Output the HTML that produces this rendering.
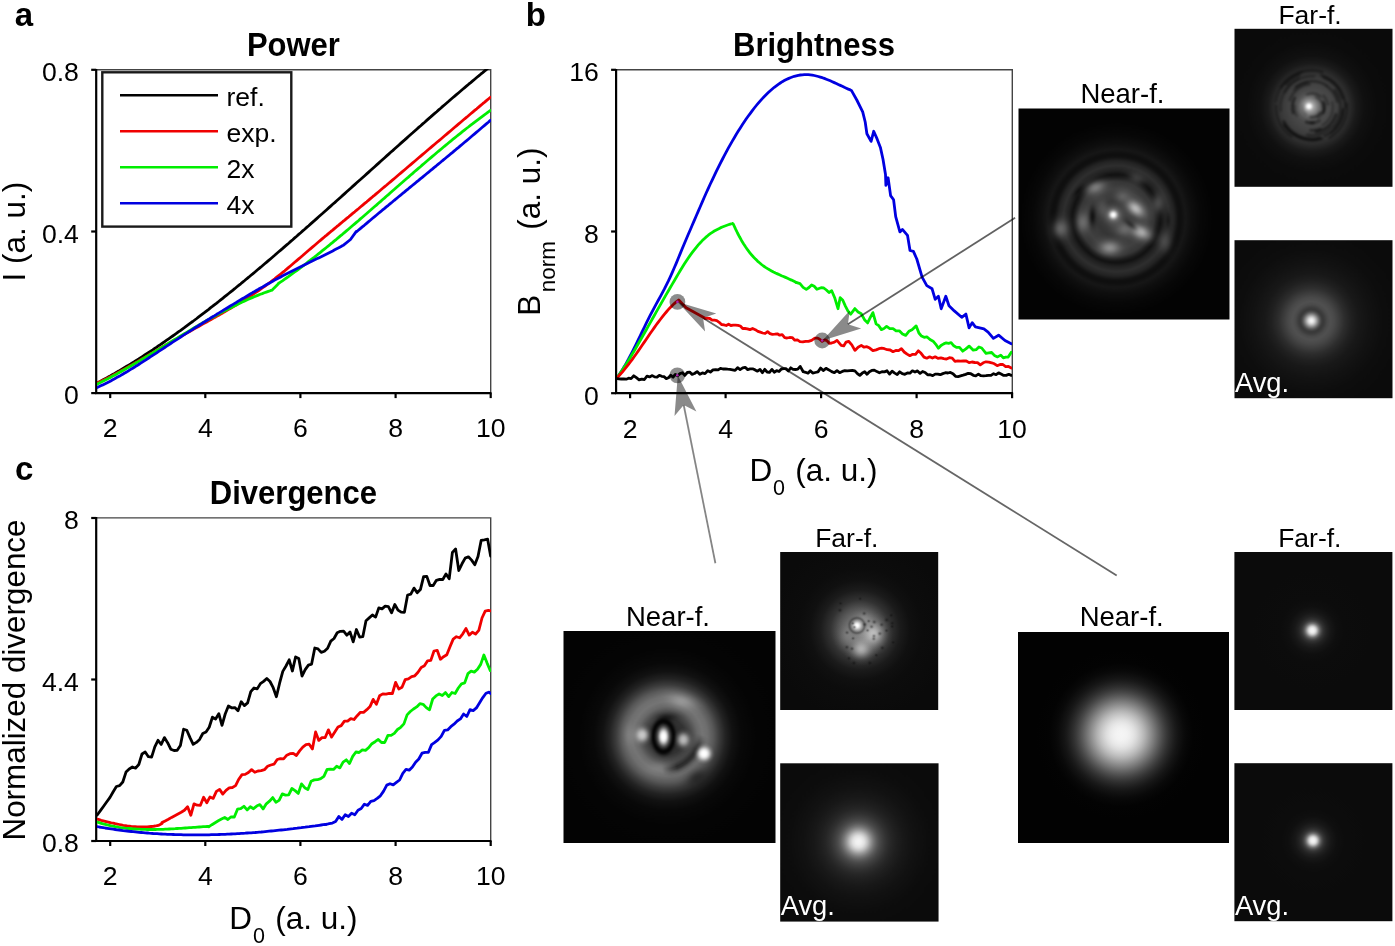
<!DOCTYPE html>
<html><head><meta charset="utf-8"><title>figure</title>
<style>html,body{margin:0;padding:0;background:#fff;}svg{display:block}svg{will-change:transform}</style></head>
<body><svg width="1395" height="946" viewBox="0 0 1395 946" font-family="'Liberation Sans', sans-serif">
<rect width="1395" height="946" fill="#fff"/>
<defs><clipPath id="clipA"><rect x="97" y="69" width="394" height="323"/></clipPath><clipPath id="clipB"><rect x="617" y="69" width="395" height="323"/></clipPath><clipPath id="clipC"><rect x="97" y="517" width="394" height="323"/></clipPath><radialGradient id="mgNBL" gradientUnits="userSpaceOnUse" cx="128" cy="132" r="30"><stop offset="0" stop-color="#fff"/><stop offset="0.5" stop-color="#fff"/><stop offset="1" stop-color="#000"/></radialGradient><mask id="maskNBL" maskUnits="userSpaceOnUse" x="0" y="0" width="212" height="212"><rect width="212" height="212" fill="url(#mgNBL)"/></mask><filter id="b1" x="-100%" y="-100%" width="300%" height="300%"><feGaussianBlur stdDeviation="1"/></filter><filter id="b1_5" x="-100%" y="-100%" width="300%" height="300%"><feGaussianBlur stdDeviation="1.5"/></filter><filter id="b2" x="-100%" y="-100%" width="300%" height="300%"><feGaussianBlur stdDeviation="2"/></filter><filter id="b2_5" x="-100%" y="-100%" width="300%" height="300%"><feGaussianBlur stdDeviation="2.5"/></filter><filter id="b3" x="-100%" y="-100%" width="300%" height="300%"><feGaussianBlur stdDeviation="3"/></filter><filter id="b3_5" x="-100%" y="-100%" width="300%" height="300%"><feGaussianBlur stdDeviation="3.5"/></filter><filter id="b4" x="-100%" y="-100%" width="300%" height="300%"><feGaussianBlur stdDeviation="4"/></filter><filter id="b5" x="-100%" y="-100%" width="300%" height="300%"><feGaussianBlur stdDeviation="5"/></filter><filter id="b6" x="-100%" y="-100%" width="300%" height="300%"><feGaussianBlur stdDeviation="6"/></filter><filter id="b7" x="-100%" y="-100%" width="300%" height="300%"><feGaussianBlur stdDeviation="7"/></filter><filter id="b8" x="-100%" y="-100%" width="300%" height="300%"><feGaussianBlur stdDeviation="8"/></filter><filter id="b10" x="-100%" y="-100%" width="300%" height="300%"><feGaussianBlur stdDeviation="10"/></filter><filter id="b12" x="-100%" y="-100%" width="300%" height="300%"><feGaussianBlur stdDeviation="12"/></filter><filter id="bf1" x="0" y="0" width="158" height="158" filterUnits="userSpaceOnUse"><feGaussianBlur stdDeviation="1.1"/></filter><radialGradient id="nbt" gradientUnits="userSpaceOnUse" cx="98.0" cy="110.0" r="125.0"><stop offset="0.0000" stop-color="rgb(74,74,74)" stop-opacity="1.000"/><stop offset="0.0640" stop-color="rgb(66,66,66)" stop-opacity="1.000"/><stop offset="0.1120" stop-color="rgb(56,56,56)" stop-opacity="1.000"/><stop offset="0.1440" stop-color="rgb(52,52,52)" stop-opacity="1.000"/><stop offset="0.1840" stop-color="rgb(58,58,58)" stop-opacity="1.000"/><stop offset="0.2400" stop-color="rgb(64,64,64)" stop-opacity="1.000"/><stop offset="0.2960" stop-color="rgb(54,54,54)" stop-opacity="1.000"/><stop offset="0.3320" stop-color="rgb(26,26,26)" stop-opacity="1.000"/><stop offset="0.3520" stop-color="rgb(17,17,17)" stop-opacity="1.000"/><stop offset="0.3840" stop-color="rgb(33,33,33)" stop-opacity="1.000"/><stop offset="0.4240" stop-color="rgb(46,46,46)" stop-opacity="1.000"/><stop offset="0.4600" stop-color="rgb(35,35,35)" stop-opacity="1.000"/><stop offset="0.4920" stop-color="rgb(17,17,17)" stop-opacity="1.000"/><stop offset="0.5120" stop-color="rgb(14,14,14)" stop-opacity="1.000"/><stop offset="0.5520" stop-color="rgb(22,22,22)" stop-opacity="1.000"/><stop offset="0.6000" stop-color="rgb(14,14,14)" stop-opacity="1.000"/><stop offset="0.6720" stop-color="rgb(7,7,7)" stop-opacity="1.000"/><stop offset="0.7680" stop-color="rgb(3,3,3)" stop-opacity="1.000"/><stop offset="0.8640" stop-color="rgb(3,3,3)" stop-opacity="1.000"/><stop offset="1.0000" stop-color="rgb(3,3,3)" stop-opacity="1.000"/></radialGradient><radialGradient id="g1"><stop offset="0.00" stop-color="rgb(190,190,190)" stop-opacity="0.950"/><stop offset="0.10" stop-color="rgb(190,190,190)" stop-opacity="0.907"/><stop offset="0.20" stop-color="rgb(190,190,190)" stop-opacity="0.790"/><stop offset="0.30" stop-color="rgb(190,190,190)" stop-opacity="0.628"/><stop offset="0.40" stop-color="rgb(190,190,190)" stop-opacity="0.455"/><stop offset="0.50" stop-color="rgb(190,190,190)" stop-opacity="0.301"/><stop offset="0.60" stop-color="rgb(190,190,190)" stop-opacity="0.181"/><stop offset="0.70" stop-color="rgb(190,190,190)" stop-opacity="0.100"/><stop offset="0.80" stop-color="rgb(190,190,190)" stop-opacity="0.050"/><stop offset="0.90" stop-color="rgb(190,190,190)" stop-opacity="0.023"/><stop offset="1.00" stop-color="rgb(190,190,190)" stop-opacity="0.000"/></radialGradient><radialGradient id="g2"><stop offset="0.00" stop-color="rgb(180,180,180)" stop-opacity="0.950"/><stop offset="0.10" stop-color="rgb(180,180,180)" stop-opacity="0.907"/><stop offset="0.20" stop-color="rgb(180,180,180)" stop-opacity="0.790"/><stop offset="0.30" stop-color="rgb(180,180,180)" stop-opacity="0.628"/><stop offset="0.40" stop-color="rgb(180,180,180)" stop-opacity="0.455"/><stop offset="0.50" stop-color="rgb(180,180,180)" stop-opacity="0.301"/><stop offset="0.60" stop-color="rgb(180,180,180)" stop-opacity="0.181"/><stop offset="0.70" stop-color="rgb(180,180,180)" stop-opacity="0.100"/><stop offset="0.80" stop-color="rgb(180,180,180)" stop-opacity="0.050"/><stop offset="0.90" stop-color="rgb(180,180,180)" stop-opacity="0.023"/><stop offset="1.00" stop-color="rgb(180,180,180)" stop-opacity="0.000"/></radialGradient><radialGradient id="g3"><stop offset="0.00" stop-color="rgb(150,150,150)" stop-opacity="0.900"/><stop offset="0.10" stop-color="rgb(150,150,150)" stop-opacity="0.860"/><stop offset="0.20" stop-color="rgb(150,150,150)" stop-opacity="0.749"/><stop offset="0.30" stop-color="rgb(150,150,150)" stop-opacity="0.595"/><stop offset="0.40" stop-color="rgb(150,150,150)" stop-opacity="0.431"/><stop offset="0.50" stop-color="rgb(150,150,150)" stop-opacity="0.285"/><stop offset="0.60" stop-color="rgb(150,150,150)" stop-opacity="0.172"/><stop offset="0.70" stop-color="rgb(150,150,150)" stop-opacity="0.094"/><stop offset="0.80" stop-color="rgb(150,150,150)" stop-opacity="0.047"/><stop offset="0.90" stop-color="rgb(150,150,150)" stop-opacity="0.022"/><stop offset="1.00" stop-color="rgb(150,150,150)" stop-opacity="0.000"/></radialGradient><radialGradient id="g4"><stop offset="0.00" stop-color="rgb(130,130,130)" stop-opacity="0.900"/><stop offset="0.10" stop-color="rgb(130,130,130)" stop-opacity="0.860"/><stop offset="0.20" stop-color="rgb(130,130,130)" stop-opacity="0.749"/><stop offset="0.30" stop-color="rgb(130,130,130)" stop-opacity="0.595"/><stop offset="0.40" stop-color="rgb(130,130,130)" stop-opacity="0.431"/><stop offset="0.50" stop-color="rgb(130,130,130)" stop-opacity="0.285"/><stop offset="0.60" stop-color="rgb(130,130,130)" stop-opacity="0.172"/><stop offset="0.70" stop-color="rgb(130,130,130)" stop-opacity="0.094"/><stop offset="0.80" stop-color="rgb(130,130,130)" stop-opacity="0.047"/><stop offset="0.90" stop-color="rgb(130,130,130)" stop-opacity="0.022"/><stop offset="1.00" stop-color="rgb(130,130,130)" stop-opacity="0.000"/></radialGradient><radialGradient id="g5"><stop offset="0.00" stop-color="rgb(115,115,115)" stop-opacity="0.850"/><stop offset="0.10" stop-color="rgb(115,115,115)" stop-opacity="0.812"/><stop offset="0.20" stop-color="rgb(115,115,115)" stop-opacity="0.707"/><stop offset="0.30" stop-color="rgb(115,115,115)" stop-opacity="0.562"/><stop offset="0.40" stop-color="rgb(115,115,115)" stop-opacity="0.407"/><stop offset="0.50" stop-color="rgb(115,115,115)" stop-opacity="0.269"/><stop offset="0.60" stop-color="rgb(115,115,115)" stop-opacity="0.162"/><stop offset="0.70" stop-color="rgb(115,115,115)" stop-opacity="0.089"/><stop offset="0.80" stop-color="rgb(115,115,115)" stop-opacity="0.045"/><stop offset="0.90" stop-color="rgb(115,115,115)" stop-opacity="0.020"/><stop offset="1.00" stop-color="rgb(115,115,115)" stop-opacity="0.000"/></radialGradient><radialGradient id="g6"><stop offset="0.00" stop-color="rgb(115,115,115)" stop-opacity="0.800"/><stop offset="0.10" stop-color="rgb(115,115,115)" stop-opacity="0.764"/><stop offset="0.20" stop-color="rgb(115,115,115)" stop-opacity="0.666"/><stop offset="0.30" stop-color="rgb(115,115,115)" stop-opacity="0.529"/><stop offset="0.40" stop-color="rgb(115,115,115)" stop-opacity="0.383"/><stop offset="0.50" stop-color="rgb(115,115,115)" stop-opacity="0.253"/><stop offset="0.60" stop-color="rgb(115,115,115)" stop-opacity="0.153"/><stop offset="0.70" stop-color="rgb(115,115,115)" stop-opacity="0.084"/><stop offset="0.80" stop-color="rgb(115,115,115)" stop-opacity="0.042"/><stop offset="0.90" stop-color="rgb(115,115,115)" stop-opacity="0.019"/><stop offset="1.00" stop-color="rgb(115,115,115)" stop-opacity="0.000"/></radialGradient><radialGradient id="g7"><stop offset="0.00" stop-color="rgb(85,85,85)" stop-opacity="0.700"/><stop offset="0.10" stop-color="rgb(85,85,85)" stop-opacity="0.669"/><stop offset="0.20" stop-color="rgb(85,85,85)" stop-opacity="0.582"/><stop offset="0.30" stop-color="rgb(85,85,85)" stop-opacity="0.463"/><stop offset="0.40" stop-color="rgb(85,85,85)" stop-opacity="0.335"/><stop offset="0.50" stop-color="rgb(85,85,85)" stop-opacity="0.222"/><stop offset="0.60" stop-color="rgb(85,85,85)" stop-opacity="0.134"/><stop offset="0.70" stop-color="rgb(85,85,85)" stop-opacity="0.073"/><stop offset="0.80" stop-color="rgb(85,85,85)" stop-opacity="0.037"/><stop offset="0.90" stop-color="rgb(85,85,85)" stop-opacity="0.017"/><stop offset="1.00" stop-color="rgb(85,85,85)" stop-opacity="0.000"/></radialGradient><radialGradient id="g8"><stop offset="0.00" stop-color="rgb(95,95,95)" stop-opacity="0.700"/><stop offset="0.10" stop-color="rgb(95,95,95)" stop-opacity="0.669"/><stop offset="0.20" stop-color="rgb(95,95,95)" stop-opacity="0.582"/><stop offset="0.30" stop-color="rgb(95,95,95)" stop-opacity="0.463"/><stop offset="0.40" stop-color="rgb(95,95,95)" stop-opacity="0.335"/><stop offset="0.50" stop-color="rgb(95,95,95)" stop-opacity="0.222"/><stop offset="0.60" stop-color="rgb(95,95,95)" stop-opacity="0.134"/><stop offset="0.70" stop-color="rgb(95,95,95)" stop-opacity="0.073"/><stop offset="0.80" stop-color="rgb(95,95,95)" stop-opacity="0.037"/><stop offset="0.90" stop-color="rgb(95,95,95)" stop-opacity="0.017"/><stop offset="1.00" stop-color="rgb(95,95,95)" stop-opacity="0.000"/></radialGradient><radialGradient id="g9"><stop offset="0.00" stop-color="rgb(120,120,120)" stop-opacity="0.750"/><stop offset="0.10" stop-color="rgb(120,120,120)" stop-opacity="0.716"/><stop offset="0.20" stop-color="rgb(120,120,120)" stop-opacity="0.624"/><stop offset="0.30" stop-color="rgb(120,120,120)" stop-opacity="0.496"/><stop offset="0.40" stop-color="rgb(120,120,120)" stop-opacity="0.359"/><stop offset="0.50" stop-color="rgb(120,120,120)" stop-opacity="0.237"/><stop offset="0.60" stop-color="rgb(120,120,120)" stop-opacity="0.143"/><stop offset="0.70" stop-color="rgb(120,120,120)" stop-opacity="0.079"/><stop offset="0.80" stop-color="rgb(120,120,120)" stop-opacity="0.039"/><stop offset="0.90" stop-color="rgb(120,120,120)" stop-opacity="0.018"/><stop offset="1.00" stop-color="rgb(120,120,120)" stop-opacity="0.000"/></radialGradient><radialGradient id="g10"><stop offset="0.00" stop-color="rgb(110,110,110)" stop-opacity="0.700"/><stop offset="0.10" stop-color="rgb(110,110,110)" stop-opacity="0.669"/><stop offset="0.20" stop-color="rgb(110,110,110)" stop-opacity="0.582"/><stop offset="0.30" stop-color="rgb(110,110,110)" stop-opacity="0.463"/><stop offset="0.40" stop-color="rgb(110,110,110)" stop-opacity="0.335"/><stop offset="0.50" stop-color="rgb(110,110,110)" stop-opacity="0.222"/><stop offset="0.60" stop-color="rgb(110,110,110)" stop-opacity="0.134"/><stop offset="0.70" stop-color="rgb(110,110,110)" stop-opacity="0.073"/><stop offset="0.80" stop-color="rgb(110,110,110)" stop-opacity="0.037"/><stop offset="0.90" stop-color="rgb(110,110,110)" stop-opacity="0.017"/><stop offset="1.00" stop-color="rgb(110,110,110)" stop-opacity="0.000"/></radialGradient><radialGradient id="g11"><stop offset="0.00" stop-color="rgb(90,90,90)" stop-opacity="0.550"/><stop offset="0.10" stop-color="rgb(90,90,90)" stop-opacity="0.525"/><stop offset="0.20" stop-color="rgb(90,90,90)" stop-opacity="0.458"/><stop offset="0.30" stop-color="rgb(90,90,90)" stop-opacity="0.364"/><stop offset="0.40" stop-color="rgb(90,90,90)" stop-opacity="0.263"/><stop offset="0.50" stop-color="rgb(90,90,90)" stop-opacity="0.174"/><stop offset="0.60" stop-color="rgb(90,90,90)" stop-opacity="0.105"/><stop offset="0.70" stop-color="rgb(90,90,90)" stop-opacity="0.058"/><stop offset="0.80" stop-color="rgb(90,90,90)" stop-opacity="0.029"/><stop offset="0.90" stop-color="rgb(90,90,90)" stop-opacity="0.013"/><stop offset="1.00" stop-color="rgb(90,90,90)" stop-opacity="0.000"/></radialGradient><radialGradient id="g12"><stop offset="0.00" stop-color="rgb(100,100,100)" stop-opacity="0.600"/><stop offset="0.10" stop-color="rgb(100,100,100)" stop-opacity="0.573"/><stop offset="0.20" stop-color="rgb(100,100,100)" stop-opacity="0.499"/><stop offset="0.30" stop-color="rgb(100,100,100)" stop-opacity="0.397"/><stop offset="0.40" stop-color="rgb(100,100,100)" stop-opacity="0.287"/><stop offset="0.50" stop-color="rgb(100,100,100)" stop-opacity="0.190"/><stop offset="0.60" stop-color="rgb(100,100,100)" stop-opacity="0.115"/><stop offset="0.70" stop-color="rgb(100,100,100)" stop-opacity="0.063"/><stop offset="0.80" stop-color="rgb(100,100,100)" stop-opacity="0.032"/><stop offset="0.90" stop-color="rgb(100,100,100)" stop-opacity="0.014"/><stop offset="1.00" stop-color="rgb(100,100,100)" stop-opacity="0.000"/></radialGradient><radialGradient id="g13"><stop offset="0.00" stop-color="rgb(0,0,0)" stop-opacity="0.500"/><stop offset="0.10" stop-color="rgb(0,0,0)" stop-opacity="0.478"/><stop offset="0.20" stop-color="rgb(0,0,0)" stop-opacity="0.416"/><stop offset="0.30" stop-color="rgb(0,0,0)" stop-opacity="0.331"/><stop offset="0.40" stop-color="rgb(0,0,0)" stop-opacity="0.240"/><stop offset="0.50" stop-color="rgb(0,0,0)" stop-opacity="0.158"/><stop offset="0.60" stop-color="rgb(0,0,0)" stop-opacity="0.095"/><stop offset="0.70" stop-color="rgb(0,0,0)" stop-opacity="0.052"/><stop offset="0.80" stop-color="rgb(0,0,0)" stop-opacity="0.026"/><stop offset="0.90" stop-color="rgb(0,0,0)" stop-opacity="0.012"/><stop offset="1.00" stop-color="rgb(0,0,0)" stop-opacity="0.000"/></radialGradient><radialGradient id="g14"><stop offset="0.00" stop-color="rgb(0,0,0)" stop-opacity="0.400"/><stop offset="0.10" stop-color="rgb(0,0,0)" stop-opacity="0.382"/><stop offset="0.20" stop-color="rgb(0,0,0)" stop-opacity="0.333"/><stop offset="0.30" stop-color="rgb(0,0,0)" stop-opacity="0.264"/><stop offset="0.40" stop-color="rgb(0,0,0)" stop-opacity="0.192"/><stop offset="0.50" stop-color="rgb(0,0,0)" stop-opacity="0.127"/><stop offset="0.60" stop-color="rgb(0,0,0)" stop-opacity="0.076"/><stop offset="0.70" stop-color="rgb(0,0,0)" stop-opacity="0.042"/><stop offset="0.80" stop-color="rgb(0,0,0)" stop-opacity="0.021"/><stop offset="0.90" stop-color="rgb(0,0,0)" stop-opacity="0.010"/><stop offset="1.00" stop-color="rgb(0,0,0)" stop-opacity="0.000"/></radialGradient><radialGradient id="g15"><stop offset="0.00" stop-color="rgb(0,0,0)" stop-opacity="0.700"/><stop offset="0.10" stop-color="rgb(0,0,0)" stop-opacity="0.669"/><stop offset="0.20" stop-color="rgb(0,0,0)" stop-opacity="0.582"/><stop offset="0.30" stop-color="rgb(0,0,0)" stop-opacity="0.463"/><stop offset="0.40" stop-color="rgb(0,0,0)" stop-opacity="0.335"/><stop offset="0.50" stop-color="rgb(0,0,0)" stop-opacity="0.222"/><stop offset="0.60" stop-color="rgb(0,0,0)" stop-opacity="0.134"/><stop offset="0.70" stop-color="rgb(0,0,0)" stop-opacity="0.073"/><stop offset="0.80" stop-color="rgb(0,0,0)" stop-opacity="0.037"/><stop offset="0.90" stop-color="rgb(0,0,0)" stop-opacity="0.017"/><stop offset="1.00" stop-color="rgb(0,0,0)" stop-opacity="0.000"/></radialGradient><radialGradient id="g16"><stop offset="0.00" stop-color="rgb(0,0,0)" stop-opacity="0.450"/><stop offset="0.10" stop-color="rgb(0,0,0)" stop-opacity="0.430"/><stop offset="0.20" stop-color="rgb(0,0,0)" stop-opacity="0.374"/><stop offset="0.30" stop-color="rgb(0,0,0)" stop-opacity="0.297"/><stop offset="0.40" stop-color="rgb(0,0,0)" stop-opacity="0.216"/><stop offset="0.50" stop-color="rgb(0,0,0)" stop-opacity="0.142"/><stop offset="0.60" stop-color="rgb(0,0,0)" stop-opacity="0.086"/><stop offset="0.70" stop-color="rgb(0,0,0)" stop-opacity="0.047"/><stop offset="0.80" stop-color="rgb(0,0,0)" stop-opacity="0.024"/><stop offset="0.90" stop-color="rgb(0,0,0)" stop-opacity="0.011"/><stop offset="1.00" stop-color="rgb(0,0,0)" stop-opacity="0.000"/></radialGradient><radialGradient id="g17"><stop offset="0.00" stop-color="rgb(170,170,170)" stop-opacity="0.900"/><stop offset="0.10" stop-color="rgb(170,170,170)" stop-opacity="0.860"/><stop offset="0.20" stop-color="rgb(170,170,170)" stop-opacity="0.749"/><stop offset="0.30" stop-color="rgb(170,170,170)" stop-opacity="0.595"/><stop offset="0.40" stop-color="rgb(170,170,170)" stop-opacity="0.431"/><stop offset="0.50" stop-color="rgb(170,170,170)" stop-opacity="0.285"/><stop offset="0.60" stop-color="rgb(170,170,170)" stop-opacity="0.172"/><stop offset="0.70" stop-color="rgb(170,170,170)" stop-opacity="0.094"/><stop offset="0.80" stop-color="rgb(170,170,170)" stop-opacity="0.047"/><stop offset="0.90" stop-color="rgb(170,170,170)" stop-opacity="0.022"/><stop offset="1.00" stop-color="rgb(170,170,170)" stop-opacity="0.000"/></radialGradient><radialGradient id="g18"><stop offset="0.00" stop-color="rgb(255,255,255)" stop-opacity="1.000"/><stop offset="0.10" stop-color="rgb(255,255,255)" stop-opacity="0.982"/><stop offset="0.20" stop-color="rgb(255,255,255)" stop-opacity="0.908"/><stop offset="0.30" stop-color="rgb(255,255,255)" stop-opacity="0.774"/><stop offset="0.40" stop-color="rgb(255,255,255)" stop-opacity="0.600"/><stop offset="0.50" stop-color="rgb(255,255,255)" stop-opacity="0.418"/><stop offset="0.60" stop-color="rgb(255,255,255)" stop-opacity="0.259"/><stop offset="0.70" stop-color="rgb(255,255,255)" stop-opacity="0.142"/><stop offset="0.80" stop-color="rgb(255,255,255)" stop-opacity="0.068"/><stop offset="0.90" stop-color="rgb(255,255,255)" stop-opacity="0.028"/><stop offset="1.00" stop-color="rgb(255,255,255)" stop-opacity="0.000"/></radialGradient><radialGradient id="fbt" gradientUnits="userSpaceOnUse" cx="77.5" cy="78.5" r="80.0"><stop offset="0.0000" stop-color="rgb(120,120,120)" stop-opacity="1.000"/><stop offset="0.1000" stop-color="rgb(92,92,92)" stop-opacity="1.000"/><stop offset="0.1750" stop-color="rgb(76,76,76)" stop-opacity="1.000"/><stop offset="0.2750" stop-color="rgb(68,68,68)" stop-opacity="1.000"/><stop offset="0.3750" stop-color="rgb(58,58,58)" stop-opacity="1.000"/><stop offset="0.4625" stop-color="rgb(44,44,44)" stop-opacity="1.000"/><stop offset="0.5500" stop-color="rgb(26,26,26)" stop-opacity="1.000"/><stop offset="0.6500" stop-color="rgb(16,16,16)" stop-opacity="1.000"/><stop offset="0.8125" stop-color="rgb(11,11,11)" stop-opacity="1.000"/><stop offset="1.0000" stop-color="rgb(10,10,10)" stop-opacity="1.000"/></radialGradient><radialGradient id="g19"><stop offset="0.00" stop-color="rgb(200,200,200)" stop-opacity="0.900"/><stop offset="0.10" stop-color="rgb(200,200,200)" stop-opacity="0.860"/><stop offset="0.20" stop-color="rgb(200,200,200)" stop-opacity="0.749"/><stop offset="0.30" stop-color="rgb(200,200,200)" stop-opacity="0.595"/><stop offset="0.40" stop-color="rgb(200,200,200)" stop-opacity="0.431"/><stop offset="0.50" stop-color="rgb(200,200,200)" stop-opacity="0.285"/><stop offset="0.60" stop-color="rgb(200,200,200)" stop-opacity="0.172"/><stop offset="0.70" stop-color="rgb(200,200,200)" stop-opacity="0.094"/><stop offset="0.80" stop-color="rgb(200,200,200)" stop-opacity="0.047"/><stop offset="0.90" stop-color="rgb(200,200,200)" stop-opacity="0.022"/><stop offset="1.00" stop-color="rgb(200,200,200)" stop-opacity="0.000"/></radialGradient><radialGradient id="g20"><stop offset="0.00" stop-color="rgb(255,255,255)" stop-opacity="1.000"/><stop offset="0.10" stop-color="rgb(255,255,255)" stop-opacity="0.989"/><stop offset="0.20" stop-color="rgb(255,255,255)" stop-opacity="0.932"/><stop offset="0.30" stop-color="rgb(255,255,255)" stop-opacity="0.818"/><stop offset="0.40" stop-color="rgb(255,255,255)" stop-opacity="0.654"/><stop offset="0.50" stop-color="rgb(255,255,255)" stop-opacity="0.468"/><stop offset="0.60" stop-color="rgb(255,255,255)" stop-opacity="0.296"/><stop offset="0.70" stop-color="rgb(255,255,255)" stop-opacity="0.162"/><stop offset="0.80" stop-color="rgb(255,255,255)" stop-opacity="0.076"/><stop offset="0.90" stop-color="rgb(255,255,255)" stop-opacity="0.030"/><stop offset="1.00" stop-color="rgb(255,255,255)" stop-opacity="0.000"/></radialGradient><radialGradient id="abt" gradientUnits="userSpaceOnUse" cx="76.9" cy="80.5" r="90.0"><stop offset="0.0000" stop-color="rgb(250,250,250)" stop-opacity="1.000"/><stop offset="0.0222" stop-color="rgb(232,232,232)" stop-opacity="1.000"/><stop offset="0.0389" stop-color="rgb(205,205,205)" stop-opacity="1.000"/><stop offset="0.0556" stop-color="rgb(168,168,168)" stop-opacity="1.000"/><stop offset="0.0722" stop-color="rgb(130,130,130)" stop-opacity="1.000"/><stop offset="0.0889" stop-color="rgb(96,96,96)" stop-opacity="1.000"/><stop offset="0.1056" stop-color="rgb(70,70,70)" stop-opacity="1.000"/><stop offset="0.1244" stop-color="rgb(56,56,56)" stop-opacity="1.000"/><stop offset="0.1444" stop-color="rgb(60,60,60)" stop-opacity="1.000"/><stop offset="0.1778" stop-color="rgb(74,74,74)" stop-opacity="1.000"/><stop offset="0.2111" stop-color="rgb(80,80,80)" stop-opacity="1.000"/><stop offset="0.2556" stop-color="rgb(73,73,73)" stop-opacity="1.000"/><stop offset="0.3000" stop-color="rgb(62,62,62)" stop-opacity="1.000"/><stop offset="0.3667" stop-color="rgb(45,45,45)" stop-opacity="1.000"/><stop offset="0.4444" stop-color="rgb(32,32,32)" stop-opacity="1.000"/><stop offset="0.5222" stop-color="rgb(24,24,24)" stop-opacity="1.000"/><stop offset="0.6444" stop-color="rgb(18,18,18)" stop-opacity="1.000"/><stop offset="0.8000" stop-color="rgb(13,13,13)" stop-opacity="1.000"/><stop offset="1.0000" stop-color="rgb(11,11,11)" stop-opacity="1.000"/></radialGradient><radialGradient id="nbl" gradientUnits="userSpaceOnUse" cx="104.0" cy="105.5" r="110.0"><stop offset="0.0000" stop-color="rgb(48,48,48)" stop-opacity="1.000"/><stop offset="0.1091" stop-color="rgb(46,46,46)" stop-opacity="1.000"/><stop offset="0.1636" stop-color="rgb(50,50,50)" stop-opacity="1.000"/><stop offset="0.2182" stop-color="rgb(74,74,74)" stop-opacity="1.000"/><stop offset="0.2727" stop-color="rgb(104,104,104)" stop-opacity="1.000"/><stop offset="0.3182" stop-color="rgb(116,116,116)" stop-opacity="1.000"/><stop offset="0.3636" stop-color="rgb(110,110,110)" stop-opacity="1.000"/><stop offset="0.4182" stop-color="rgb(88,88,88)" stop-opacity="1.000"/><stop offset="0.4727" stop-color="rgb(58,58,58)" stop-opacity="1.000"/><stop offset="0.5273" stop-color="rgb(34,34,34)" stop-opacity="1.000"/><stop offset="0.5909" stop-color="rgb(17,17,17)" stop-opacity="1.000"/><stop offset="0.6727" stop-color="rgb(8,8,8)" stop-opacity="1.000"/><stop offset="0.8000" stop-color="rgb(4,4,4)" stop-opacity="1.000"/><stop offset="1.0000" stop-color="rgb(3,3,3)" stop-opacity="1.000"/></radialGradient><radialGradient id="g21"><stop offset="0.00" stop-color="rgb(175,175,175)" stop-opacity="0.600"/><stop offset="0.10" stop-color="rgb(175,175,175)" stop-opacity="0.573"/><stop offset="0.20" stop-color="rgb(175,175,175)" stop-opacity="0.499"/><stop offset="0.30" stop-color="rgb(175,175,175)" stop-opacity="0.397"/><stop offset="0.40" stop-color="rgb(175,175,175)" stop-opacity="0.287"/><stop offset="0.50" stop-color="rgb(175,175,175)" stop-opacity="0.190"/><stop offset="0.60" stop-color="rgb(175,175,175)" stop-opacity="0.115"/><stop offset="0.70" stop-color="rgb(175,175,175)" stop-opacity="0.063"/><stop offset="0.80" stop-color="rgb(175,175,175)" stop-opacity="0.032"/><stop offset="0.90" stop-color="rgb(175,175,175)" stop-opacity="0.014"/><stop offset="1.00" stop-color="rgb(175,175,175)" stop-opacity="0.000"/></radialGradient><radialGradient id="g22"><stop offset="0.00" stop-color="rgb(0,0,0)" stop-opacity="0.450"/><stop offset="0.10" stop-color="rgb(0,0,0)" stop-opacity="0.430"/><stop offset="0.20" stop-color="rgb(0,0,0)" stop-opacity="0.374"/><stop offset="0.30" stop-color="rgb(0,0,0)" stop-opacity="0.297"/><stop offset="0.40" stop-color="rgb(0,0,0)" stop-opacity="0.216"/><stop offset="0.50" stop-color="rgb(0,0,0)" stop-opacity="0.142"/><stop offset="0.60" stop-color="rgb(0,0,0)" stop-opacity="0.086"/><stop offset="0.70" stop-color="rgb(0,0,0)" stop-opacity="0.047"/><stop offset="0.80" stop-color="rgb(0,0,0)" stop-opacity="0.024"/><stop offset="0.90" stop-color="rgb(0,0,0)" stop-opacity="0.011"/><stop offset="1.00" stop-color="rgb(0,0,0)" stop-opacity="0.000"/></radialGradient><radialGradient id="g23"><stop offset="0.00" stop-color="rgb(150,150,150)" stop-opacity="0.400"/><stop offset="0.10" stop-color="rgb(150,150,150)" stop-opacity="0.382"/><stop offset="0.20" stop-color="rgb(150,150,150)" stop-opacity="0.333"/><stop offset="0.30" stop-color="rgb(150,150,150)" stop-opacity="0.264"/><stop offset="0.40" stop-color="rgb(150,150,150)" stop-opacity="0.192"/><stop offset="0.50" stop-color="rgb(150,150,150)" stop-opacity="0.127"/><stop offset="0.60" stop-color="rgb(150,150,150)" stop-opacity="0.076"/><stop offset="0.70" stop-color="rgb(150,150,150)" stop-opacity="0.042"/><stop offset="0.80" stop-color="rgb(150,150,150)" stop-opacity="0.021"/><stop offset="0.90" stop-color="rgb(150,150,150)" stop-opacity="0.010"/><stop offset="1.00" stop-color="rgb(150,150,150)" stop-opacity="0.000"/></radialGradient><radialGradient id="g24"><stop offset="0.00" stop-color="rgb(140,140,140)" stop-opacity="0.450"/><stop offset="0.10" stop-color="rgb(140,140,140)" stop-opacity="0.430"/><stop offset="0.20" stop-color="rgb(140,140,140)" stop-opacity="0.374"/><stop offset="0.30" stop-color="rgb(140,140,140)" stop-opacity="0.297"/><stop offset="0.40" stop-color="rgb(140,140,140)" stop-opacity="0.216"/><stop offset="0.50" stop-color="rgb(140,140,140)" stop-opacity="0.142"/><stop offset="0.60" stop-color="rgb(140,140,140)" stop-opacity="0.086"/><stop offset="0.70" stop-color="rgb(140,140,140)" stop-opacity="0.047"/><stop offset="0.80" stop-color="rgb(140,140,140)" stop-opacity="0.024"/><stop offset="0.90" stop-color="rgb(140,140,140)" stop-opacity="0.011"/><stop offset="1.00" stop-color="rgb(140,140,140)" stop-opacity="0.000"/></radialGradient><radialGradient id="g25"><stop offset="0.0000" stop-color="rgb(0,0,0)" stop-opacity="0.000"/><stop offset="0.0417" stop-color="rgb(0,0,0)" stop-opacity="0.000"/><stop offset="0.0833" stop-color="rgb(0,0,0)" stop-opacity="0.000"/><stop offset="0.1250" stop-color="rgb(0,0,0)" stop-opacity="0.000"/><stop offset="0.1667" stop-color="rgb(0,0,0)" stop-opacity="0.000"/><stop offset="0.2083" stop-color="rgb(0,0,0)" stop-opacity="0.000"/><stop offset="0.2500" stop-color="rgb(0,0,0)" stop-opacity="0.000"/><stop offset="0.2917" stop-color="rgb(0,0,0)" stop-opacity="0.000"/><stop offset="0.3333" stop-color="rgb(0,0,0)" stop-opacity="0.000"/><stop offset="0.3750" stop-color="rgb(0,0,0)" stop-opacity="0.000"/><stop offset="0.4167" stop-color="rgb(0,0,0)" stop-opacity="0.000"/><stop offset="0.4583" stop-color="rgb(0,0,0)" stop-opacity="0.000"/><stop offset="0.5000" stop-color="rgb(0,0,0)" stop-opacity="0.001"/><stop offset="0.5417" stop-color="rgb(0,0,0)" stop-opacity="0.006"/><stop offset="0.5833" stop-color="rgb(0,0,0)" stop-opacity="0.039"/><stop offset="0.6250" stop-color="rgb(0,0,0)" stop-opacity="0.160"/><stop offset="0.6667" stop-color="rgb(0,0,0)" stop-opacity="0.399"/><stop offset="0.7083" stop-color="rgb(0,0,0)" stop-opacity="0.603"/><stop offset="0.7500" stop-color="rgb(0,0,0)" stop-opacity="0.554"/><stop offset="0.7917" stop-color="rgb(0,0,0)" stop-opacity="0.308"/><stop offset="0.8333" stop-color="rgb(0,0,0)" stop-opacity="0.104"/><stop offset="0.8750" stop-color="rgb(0,0,0)" stop-opacity="0.021"/><stop offset="0.9167" stop-color="rgb(0,0,0)" stop-opacity="0.003"/><stop offset="0.9583" stop-color="rgb(0,0,0)" stop-opacity="0.000"/><stop offset="1.0000" stop-color="rgb(0,0,0)" stop-opacity="0.000"/></radialGradient><radialGradient id="g26"><stop offset="0.00" stop-color="rgb(20,20,20)" stop-opacity="0.550"/><stop offset="0.10" stop-color="rgb(20,20,20)" stop-opacity="0.525"/><stop offset="0.20" stop-color="rgb(20,20,20)" stop-opacity="0.458"/><stop offset="0.30" stop-color="rgb(20,20,20)" stop-opacity="0.364"/><stop offset="0.40" stop-color="rgb(20,20,20)" stop-opacity="0.263"/><stop offset="0.50" stop-color="rgb(20,20,20)" stop-opacity="0.174"/><stop offset="0.60" stop-color="rgb(20,20,20)" stop-opacity="0.105"/><stop offset="0.70" stop-color="rgb(20,20,20)" stop-opacity="0.058"/><stop offset="0.80" stop-color="rgb(20,20,20)" stop-opacity="0.029"/><stop offset="0.90" stop-color="rgb(20,20,20)" stop-opacity="0.013"/><stop offset="1.00" stop-color="rgb(20,20,20)" stop-opacity="0.000"/></radialGradient><radialGradient id="g27"><stop offset="0.0000" stop-color="rgb(0,0,0)" stop-opacity="0.000"/><stop offset="0.0417" stop-color="rgb(0,0,0)" stop-opacity="0.000"/><stop offset="0.0833" stop-color="rgb(0,0,0)" stop-opacity="0.000"/><stop offset="0.1250" stop-color="rgb(0,0,0)" stop-opacity="0.000"/><stop offset="0.1667" stop-color="rgb(0,0,0)" stop-opacity="0.000"/><stop offset="0.2083" stop-color="rgb(0,0,0)" stop-opacity="0.001"/><stop offset="0.2500" stop-color="rgb(0,0,0)" stop-opacity="0.003"/><stop offset="0.2917" stop-color="rgb(0,0,0)" stop-opacity="0.012"/><stop offset="0.3333" stop-color="rgb(0,0,0)" stop-opacity="0.042"/><stop offset="0.3750" stop-color="rgb(0,0,0)" stop-opacity="0.115"/><stop offset="0.4167" stop-color="rgb(0,0,0)" stop-opacity="0.259"/><stop offset="0.4583" stop-color="rgb(0,0,0)" stop-opacity="0.476"/><stop offset="0.5000" stop-color="rgb(0,0,0)" stop-opacity="0.715"/><stop offset="0.5417" stop-color="rgb(0,0,0)" stop-opacity="0.877"/><stop offset="0.5833" stop-color="rgb(0,0,0)" stop-opacity="0.878"/><stop offset="0.6250" stop-color="rgb(0,0,0)" stop-opacity="0.719"/><stop offset="0.6667" stop-color="rgb(0,0,0)" stop-opacity="0.481"/><stop offset="0.7083" stop-color="rgb(0,0,0)" stop-opacity="0.262"/><stop offset="0.7500" stop-color="rgb(0,0,0)" stop-opacity="0.117"/><stop offset="0.7917" stop-color="rgb(0,0,0)" stop-opacity="0.043"/><stop offset="0.8333" stop-color="rgb(0,0,0)" stop-opacity="0.013"/><stop offset="0.8750" stop-color="rgb(0,0,0)" stop-opacity="0.003"/><stop offset="0.9167" stop-color="rgb(0,0,0)" stop-opacity="0.001"/><stop offset="0.9583" stop-color="rgb(0,0,0)" stop-opacity="0.000"/><stop offset="1.0000" stop-color="rgb(0,0,0)" stop-opacity="0.000"/></radialGradient><radialGradient id="g28"><stop offset="0.00" stop-color="rgb(255,255,255)" stop-opacity="1.000"/><stop offset="0.10" stop-color="rgb(255,255,255)" stop-opacity="0.997"/><stop offset="0.20" stop-color="rgb(255,255,255)" stop-opacity="0.974"/><stop offset="0.30" stop-color="rgb(255,255,255)" stop-opacity="0.907"/><stop offset="0.40" stop-color="rgb(255,255,255)" stop-opacity="0.783"/><stop offset="0.50" stop-color="rgb(255,255,255)" stop-opacity="0.606"/><stop offset="0.60" stop-color="rgb(255,255,255)" stop-opacity="0.408"/><stop offset="0.70" stop-color="rgb(255,255,255)" stop-opacity="0.230"/><stop offset="0.80" stop-color="rgb(255,255,255)" stop-opacity="0.105"/><stop offset="0.90" stop-color="rgb(255,255,255)" stop-opacity="0.037"/><stop offset="1.00" stop-color="rgb(255,255,255)" stop-opacity="0.000"/></radialGradient><radialGradient id="g29"><stop offset="0.00" stop-color="rgb(205,205,205)" stop-opacity="0.950"/><stop offset="0.10" stop-color="rgb(205,205,205)" stop-opacity="0.939"/><stop offset="0.20" stop-color="rgb(205,205,205)" stop-opacity="0.886"/><stop offset="0.30" stop-color="rgb(205,205,205)" stop-opacity="0.777"/><stop offset="0.40" stop-color="rgb(205,205,205)" stop-opacity="0.621"/><stop offset="0.50" stop-color="rgb(205,205,205)" stop-opacity="0.445"/><stop offset="0.60" stop-color="rgb(205,205,205)" stop-opacity="0.281"/><stop offset="0.70" stop-color="rgb(205,205,205)" stop-opacity="0.154"/><stop offset="0.80" stop-color="rgb(205,205,205)" stop-opacity="0.072"/><stop offset="0.90" stop-color="rgb(205,205,205)" stop-opacity="0.029"/><stop offset="1.00" stop-color="rgb(205,205,205)" stop-opacity="0.000"/></radialGradient><radialGradient id="g30"><stop offset="0.00" stop-color="rgb(190,190,190)" stop-opacity="0.950"/><stop offset="0.10" stop-color="rgb(190,190,190)" stop-opacity="0.939"/><stop offset="0.20" stop-color="rgb(190,190,190)" stop-opacity="0.886"/><stop offset="0.30" stop-color="rgb(190,190,190)" stop-opacity="0.777"/><stop offset="0.40" stop-color="rgb(190,190,190)" stop-opacity="0.621"/><stop offset="0.50" stop-color="rgb(190,190,190)" stop-opacity="0.445"/><stop offset="0.60" stop-color="rgb(190,190,190)" stop-opacity="0.281"/><stop offset="0.70" stop-color="rgb(190,190,190)" stop-opacity="0.154"/><stop offset="0.80" stop-color="rgb(190,190,190)" stop-opacity="0.072"/><stop offset="0.90" stop-color="rgb(190,190,190)" stop-opacity="0.029"/><stop offset="1.00" stop-color="rgb(190,190,190)" stop-opacity="0.000"/></radialGradient><radialGradient id="g31"><stop offset="0.00" stop-color="rgb(255,255,255)" stop-opacity="1.000"/><stop offset="0.10" stop-color="rgb(255,255,255)" stop-opacity="0.995"/><stop offset="0.20" stop-color="rgb(255,255,255)" stop-opacity="0.964"/><stop offset="0.30" stop-color="rgb(255,255,255)" stop-opacity="0.883"/><stop offset="0.40" stop-color="rgb(255,255,255)" stop-opacity="0.745"/><stop offset="0.50" stop-color="rgb(255,255,255)" stop-opacity="0.563"/><stop offset="0.60" stop-color="rgb(255,255,255)" stop-opacity="0.370"/><stop offset="0.70" stop-color="rgb(255,255,255)" stop-opacity="0.206"/><stop offset="0.80" stop-color="rgb(255,255,255)" stop-opacity="0.095"/><stop offset="0.90" stop-color="rgb(255,255,255)" stop-opacity="0.035"/><stop offset="1.00" stop-color="rgb(255,255,255)" stop-opacity="0.000"/></radialGradient><radialGradient id="fbl" gradientUnits="userSpaceOnUse" cx="80.0" cy="78.0" r="90.0"><stop offset="0.0000" stop-color="rgb(130,130,130)" stop-opacity="1.000"/><stop offset="0.1333" stop-color="rgb(116,116,116)" stop-opacity="1.000"/><stop offset="0.2444" stop-color="rgb(82,82,82)" stop-opacity="1.000"/><stop offset="0.3333" stop-color="rgb(50,50,50)" stop-opacity="1.000"/><stop offset="0.4444" stop-color="rgb(27,27,27)" stop-opacity="1.000"/><stop offset="0.5556" stop-color="rgb(16,16,16)" stop-opacity="1.000"/><stop offset="0.6889" stop-color="rgb(12,12,12)" stop-opacity="1.000"/><stop offset="1.0000" stop-color="rgb(10,10,10)" stop-opacity="1.000"/></radialGradient><radialGradient id="g32"><stop offset="0.00" stop-color="rgb(205,205,205)" stop-opacity="0.850"/><stop offset="0.10" stop-color="rgb(205,205,205)" stop-opacity="0.812"/><stop offset="0.20" stop-color="rgb(205,205,205)" stop-opacity="0.707"/><stop offset="0.30" stop-color="rgb(205,205,205)" stop-opacity="0.562"/><stop offset="0.40" stop-color="rgb(205,205,205)" stop-opacity="0.407"/><stop offset="0.50" stop-color="rgb(205,205,205)" stop-opacity="0.269"/><stop offset="0.60" stop-color="rgb(205,205,205)" stop-opacity="0.162"/><stop offset="0.70" stop-color="rgb(205,205,205)" stop-opacity="0.089"/><stop offset="0.80" stop-color="rgb(205,205,205)" stop-opacity="0.045"/><stop offset="0.90" stop-color="rgb(205,205,205)" stop-opacity="0.020"/><stop offset="1.00" stop-color="rgb(205,205,205)" stop-opacity="0.000"/></radialGradient><radialGradient id="g33"><stop offset="0.00" stop-color="rgb(190,190,190)" stop-opacity="0.850"/><stop offset="0.10" stop-color="rgb(190,190,190)" stop-opacity="0.812"/><stop offset="0.20" stop-color="rgb(190,190,190)" stop-opacity="0.707"/><stop offset="0.30" stop-color="rgb(190,190,190)" stop-opacity="0.562"/><stop offset="0.40" stop-color="rgb(190,190,190)" stop-opacity="0.407"/><stop offset="0.50" stop-color="rgb(190,190,190)" stop-opacity="0.269"/><stop offset="0.60" stop-color="rgb(190,190,190)" stop-opacity="0.162"/><stop offset="0.70" stop-color="rgb(190,190,190)" stop-opacity="0.089"/><stop offset="0.80" stop-color="rgb(190,190,190)" stop-opacity="0.045"/><stop offset="0.90" stop-color="rgb(190,190,190)" stop-opacity="0.020"/><stop offset="1.00" stop-color="rgb(190,190,190)" stop-opacity="0.000"/></radialGradient><radialGradient id="g34"><stop offset="0.00" stop-color="rgb(150,150,150)" stop-opacity="0.600"/><stop offset="0.10" stop-color="rgb(150,150,150)" stop-opacity="0.573"/><stop offset="0.20" stop-color="rgb(150,150,150)" stop-opacity="0.499"/><stop offset="0.30" stop-color="rgb(150,150,150)" stop-opacity="0.397"/><stop offset="0.40" stop-color="rgb(150,150,150)" stop-opacity="0.287"/><stop offset="0.50" stop-color="rgb(150,150,150)" stop-opacity="0.190"/><stop offset="0.60" stop-color="rgb(150,150,150)" stop-opacity="0.115"/><stop offset="0.70" stop-color="rgb(150,150,150)" stop-opacity="0.063"/><stop offset="0.80" stop-color="rgb(150,150,150)" stop-opacity="0.032"/><stop offset="0.90" stop-color="rgb(150,150,150)" stop-opacity="0.014"/><stop offset="1.00" stop-color="rgb(150,150,150)" stop-opacity="0.000"/></radialGradient><radialGradient id="g35"><stop offset="0.00" stop-color="rgb(140,140,140)" stop-opacity="0.500"/><stop offset="0.10" stop-color="rgb(140,140,140)" stop-opacity="0.478"/><stop offset="0.20" stop-color="rgb(140,140,140)" stop-opacity="0.416"/><stop offset="0.30" stop-color="rgb(140,140,140)" stop-opacity="0.331"/><stop offset="0.40" stop-color="rgb(140,140,140)" stop-opacity="0.240"/><stop offset="0.50" stop-color="rgb(140,140,140)" stop-opacity="0.158"/><stop offset="0.60" stop-color="rgb(140,140,140)" stop-opacity="0.095"/><stop offset="0.70" stop-color="rgb(140,140,140)" stop-opacity="0.052"/><stop offset="0.80" stop-color="rgb(140,140,140)" stop-opacity="0.026"/><stop offset="0.90" stop-color="rgb(140,140,140)" stop-opacity="0.012"/><stop offset="1.00" stop-color="rgb(140,140,140)" stop-opacity="0.000"/></radialGradient><radialGradient id="g36"><stop offset="0.0000" stop-color="rgb(0,0,0)" stop-opacity="0.000"/><stop offset="0.0417" stop-color="rgb(0,0,0)" stop-opacity="0.000"/><stop offset="0.0833" stop-color="rgb(0,0,0)" stop-opacity="0.000"/><stop offset="0.1250" stop-color="rgb(0,0,0)" stop-opacity="0.000"/><stop offset="0.1667" stop-color="rgb(0,0,0)" stop-opacity="0.000"/><stop offset="0.2083" stop-color="rgb(0,0,0)" stop-opacity="0.000"/><stop offset="0.2500" stop-color="rgb(0,0,0)" stop-opacity="0.000"/><stop offset="0.2917" stop-color="rgb(0,0,0)" stop-opacity="0.000"/><stop offset="0.3333" stop-color="rgb(0,0,0)" stop-opacity="0.001"/><stop offset="0.3750" stop-color="rgb(0,0,0)" stop-opacity="0.006"/><stop offset="0.4167" stop-color="rgb(0,0,0)" stop-opacity="0.021"/><stop offset="0.4583" stop-color="rgb(0,0,0)" stop-opacity="0.060"/><stop offset="0.5000" stop-color="rgb(0,0,0)" stop-opacity="0.129"/><stop offset="0.5417" stop-color="rgb(0,0,0)" stop-opacity="0.219"/><stop offset="0.5833" stop-color="rgb(0,0,0)" stop-opacity="0.287"/><stop offset="0.6250" stop-color="rgb(0,0,0)" stop-opacity="0.294"/><stop offset="0.6667" stop-color="rgb(0,0,0)" stop-opacity="0.233"/><stop offset="0.7083" stop-color="rgb(0,0,0)" stop-opacity="0.144"/><stop offset="0.7500" stop-color="rgb(0,0,0)" stop-opacity="0.069"/><stop offset="0.7917" stop-color="rgb(0,0,0)" stop-opacity="0.026"/><stop offset="0.8333" stop-color="rgb(0,0,0)" stop-opacity="0.008"/><stop offset="0.8750" stop-color="rgb(0,0,0)" stop-opacity="0.002"/><stop offset="0.9167" stop-color="rgb(0,0,0)" stop-opacity="0.000"/><stop offset="0.9583" stop-color="rgb(0,0,0)" stop-opacity="0.000"/><stop offset="1.0000" stop-color="rgb(0,0,0)" stop-opacity="0.000"/></radialGradient><radialGradient id="g37"><stop offset="0.00" stop-color="rgb(255,255,255)" stop-opacity="1.000"/><stop offset="0.10" stop-color="rgb(255,255,255)" stop-opacity="0.989"/><stop offset="0.20" stop-color="rgb(255,255,255)" stop-opacity="0.932"/><stop offset="0.30" stop-color="rgb(255,255,255)" stop-opacity="0.818"/><stop offset="0.40" stop-color="rgb(255,255,255)" stop-opacity="0.654"/><stop offset="0.50" stop-color="rgb(255,255,255)" stop-opacity="0.468"/><stop offset="0.60" stop-color="rgb(255,255,255)" stop-opacity="0.296"/><stop offset="0.70" stop-color="rgb(255,255,255)" stop-opacity="0.162"/><stop offset="0.80" stop-color="rgb(255,255,255)" stop-opacity="0.076"/><stop offset="0.90" stop-color="rgb(255,255,255)" stop-opacity="0.030"/><stop offset="1.00" stop-color="rgb(255,255,255)" stop-opacity="0.000"/></radialGradient><radialGradient id="g38"><stop offset="0.00" stop-color="rgb(0,0,0)" stop-opacity="0.380"/><stop offset="0.10" stop-color="rgb(0,0,0)" stop-opacity="0.363"/><stop offset="0.20" stop-color="rgb(0,0,0)" stop-opacity="0.316"/><stop offset="0.30" stop-color="rgb(0,0,0)" stop-opacity="0.251"/><stop offset="0.40" stop-color="rgb(0,0,0)" stop-opacity="0.182"/><stop offset="0.50" stop-color="rgb(0,0,0)" stop-opacity="0.120"/><stop offset="0.60" stop-color="rgb(0,0,0)" stop-opacity="0.073"/><stop offset="0.70" stop-color="rgb(0,0,0)" stop-opacity="0.040"/><stop offset="0.80" stop-color="rgb(0,0,0)" stop-opacity="0.020"/><stop offset="0.90" stop-color="rgb(0,0,0)" stop-opacity="0.009"/><stop offset="1.00" stop-color="rgb(0,0,0)" stop-opacity="0.000"/></radialGradient><radialGradient id="g39"><stop offset="0.00" stop-color="rgb(0,0,0)" stop-opacity="0.380"/><stop offset="0.10" stop-color="rgb(0,0,0)" stop-opacity="0.363"/><stop offset="0.20" stop-color="rgb(0,0,0)" stop-opacity="0.316"/><stop offset="0.30" stop-color="rgb(0,0,0)" stop-opacity="0.251"/><stop offset="0.40" stop-color="rgb(0,0,0)" stop-opacity="0.182"/><stop offset="0.50" stop-color="rgb(0,0,0)" stop-opacity="0.120"/><stop offset="0.60" stop-color="rgb(0,0,0)" stop-opacity="0.073"/><stop offset="0.70" stop-color="rgb(0,0,0)" stop-opacity="0.040"/><stop offset="0.80" stop-color="rgb(0,0,0)" stop-opacity="0.020"/><stop offset="0.90" stop-color="rgb(0,0,0)" stop-opacity="0.009"/><stop offset="1.00" stop-color="rgb(0,0,0)" stop-opacity="0.000"/></radialGradient><radialGradient id="g40"><stop offset="0.00" stop-color="rgb(0,0,0)" stop-opacity="0.380"/><stop offset="0.10" stop-color="rgb(0,0,0)" stop-opacity="0.363"/><stop offset="0.20" stop-color="rgb(0,0,0)" stop-opacity="0.316"/><stop offset="0.30" stop-color="rgb(0,0,0)" stop-opacity="0.251"/><stop offset="0.40" stop-color="rgb(0,0,0)" stop-opacity="0.182"/><stop offset="0.50" stop-color="rgb(0,0,0)" stop-opacity="0.120"/><stop offset="0.60" stop-color="rgb(0,0,0)" stop-opacity="0.073"/><stop offset="0.70" stop-color="rgb(0,0,0)" stop-opacity="0.040"/><stop offset="0.80" stop-color="rgb(0,0,0)" stop-opacity="0.020"/><stop offset="0.90" stop-color="rgb(0,0,0)" stop-opacity="0.009"/><stop offset="1.00" stop-color="rgb(0,0,0)" stop-opacity="0.000"/></radialGradient><radialGradient id="g41"><stop offset="0.00" stop-color="rgb(0,0,0)" stop-opacity="0.380"/><stop offset="0.10" stop-color="rgb(0,0,0)" stop-opacity="0.363"/><stop offset="0.20" stop-color="rgb(0,0,0)" stop-opacity="0.316"/><stop offset="0.30" stop-color="rgb(0,0,0)" stop-opacity="0.251"/><stop offset="0.40" stop-color="rgb(0,0,0)" stop-opacity="0.182"/><stop offset="0.50" stop-color="rgb(0,0,0)" stop-opacity="0.120"/><stop offset="0.60" stop-color="rgb(0,0,0)" stop-opacity="0.073"/><stop offset="0.70" stop-color="rgb(0,0,0)" stop-opacity="0.040"/><stop offset="0.80" stop-color="rgb(0,0,0)" stop-opacity="0.020"/><stop offset="0.90" stop-color="rgb(0,0,0)" stop-opacity="0.009"/><stop offset="1.00" stop-color="rgb(0,0,0)" stop-opacity="0.000"/></radialGradient><radialGradient id="g42"><stop offset="0.00" stop-color="rgb(0,0,0)" stop-opacity="0.380"/><stop offset="0.10" stop-color="rgb(0,0,0)" stop-opacity="0.363"/><stop offset="0.20" stop-color="rgb(0,0,0)" stop-opacity="0.316"/><stop offset="0.30" stop-color="rgb(0,0,0)" stop-opacity="0.251"/><stop offset="0.40" stop-color="rgb(0,0,0)" stop-opacity="0.182"/><stop offset="0.50" stop-color="rgb(0,0,0)" stop-opacity="0.120"/><stop offset="0.60" stop-color="rgb(0,0,0)" stop-opacity="0.073"/><stop offset="0.70" stop-color="rgb(0,0,0)" stop-opacity="0.040"/><stop offset="0.80" stop-color="rgb(0,0,0)" stop-opacity="0.020"/><stop offset="0.90" stop-color="rgb(0,0,0)" stop-opacity="0.009"/><stop offset="1.00" stop-color="rgb(0,0,0)" stop-opacity="0.000"/></radialGradient><radialGradient id="g43"><stop offset="0.00" stop-color="rgb(0,0,0)" stop-opacity="0.380"/><stop offset="0.10" stop-color="rgb(0,0,0)" stop-opacity="0.363"/><stop offset="0.20" stop-color="rgb(0,0,0)" stop-opacity="0.316"/><stop offset="0.30" stop-color="rgb(0,0,0)" stop-opacity="0.251"/><stop offset="0.40" stop-color="rgb(0,0,0)" stop-opacity="0.182"/><stop offset="0.50" stop-color="rgb(0,0,0)" stop-opacity="0.120"/><stop offset="0.60" stop-color="rgb(0,0,0)" stop-opacity="0.073"/><stop offset="0.70" stop-color="rgb(0,0,0)" stop-opacity="0.040"/><stop offset="0.80" stop-color="rgb(0,0,0)" stop-opacity="0.020"/><stop offset="0.90" stop-color="rgb(0,0,0)" stop-opacity="0.009"/><stop offset="1.00" stop-color="rgb(0,0,0)" stop-opacity="0.000"/></radialGradient><radialGradient id="g44"><stop offset="0.00" stop-color="rgb(0,0,0)" stop-opacity="0.380"/><stop offset="0.10" stop-color="rgb(0,0,0)" stop-opacity="0.363"/><stop offset="0.20" stop-color="rgb(0,0,0)" stop-opacity="0.316"/><stop offset="0.30" stop-color="rgb(0,0,0)" stop-opacity="0.251"/><stop offset="0.40" stop-color="rgb(0,0,0)" stop-opacity="0.182"/><stop offset="0.50" stop-color="rgb(0,0,0)" stop-opacity="0.120"/><stop offset="0.60" stop-color="rgb(0,0,0)" stop-opacity="0.073"/><stop offset="0.70" stop-color="rgb(0,0,0)" stop-opacity="0.040"/><stop offset="0.80" stop-color="rgb(0,0,0)" stop-opacity="0.020"/><stop offset="0.90" stop-color="rgb(0,0,0)" stop-opacity="0.009"/><stop offset="1.00" stop-color="rgb(0,0,0)" stop-opacity="0.000"/></radialGradient><radialGradient id="g45"><stop offset="0.00" stop-color="rgb(0,0,0)" stop-opacity="0.380"/><stop offset="0.10" stop-color="rgb(0,0,0)" stop-opacity="0.363"/><stop offset="0.20" stop-color="rgb(0,0,0)" stop-opacity="0.316"/><stop offset="0.30" stop-color="rgb(0,0,0)" stop-opacity="0.251"/><stop offset="0.40" stop-color="rgb(0,0,0)" stop-opacity="0.182"/><stop offset="0.50" stop-color="rgb(0,0,0)" stop-opacity="0.120"/><stop offset="0.60" stop-color="rgb(0,0,0)" stop-opacity="0.073"/><stop offset="0.70" stop-color="rgb(0,0,0)" stop-opacity="0.040"/><stop offset="0.80" stop-color="rgb(0,0,0)" stop-opacity="0.020"/><stop offset="0.90" stop-color="rgb(0,0,0)" stop-opacity="0.009"/><stop offset="1.00" stop-color="rgb(0,0,0)" stop-opacity="0.000"/></radialGradient><radialGradient id="g46"><stop offset="0.00" stop-color="rgb(0,0,0)" stop-opacity="0.380"/><stop offset="0.10" stop-color="rgb(0,0,0)" stop-opacity="0.363"/><stop offset="0.20" stop-color="rgb(0,0,0)" stop-opacity="0.316"/><stop offset="0.30" stop-color="rgb(0,0,0)" stop-opacity="0.251"/><stop offset="0.40" stop-color="rgb(0,0,0)" stop-opacity="0.182"/><stop offset="0.50" stop-color="rgb(0,0,0)" stop-opacity="0.120"/><stop offset="0.60" stop-color="rgb(0,0,0)" stop-opacity="0.073"/><stop offset="0.70" stop-color="rgb(0,0,0)" stop-opacity="0.040"/><stop offset="0.80" stop-color="rgb(0,0,0)" stop-opacity="0.020"/><stop offset="0.90" stop-color="rgb(0,0,0)" stop-opacity="0.009"/><stop offset="1.00" stop-color="rgb(0,0,0)" stop-opacity="0.000"/></radialGradient><radialGradient id="g47"><stop offset="0.00" stop-color="rgb(0,0,0)" stop-opacity="0.380"/><stop offset="0.10" stop-color="rgb(0,0,0)" stop-opacity="0.363"/><stop offset="0.20" stop-color="rgb(0,0,0)" stop-opacity="0.316"/><stop offset="0.30" stop-color="rgb(0,0,0)" stop-opacity="0.251"/><stop offset="0.40" stop-color="rgb(0,0,0)" stop-opacity="0.182"/><stop offset="0.50" stop-color="rgb(0,0,0)" stop-opacity="0.120"/><stop offset="0.60" stop-color="rgb(0,0,0)" stop-opacity="0.073"/><stop offset="0.70" stop-color="rgb(0,0,0)" stop-opacity="0.040"/><stop offset="0.80" stop-color="rgb(0,0,0)" stop-opacity="0.020"/><stop offset="0.90" stop-color="rgb(0,0,0)" stop-opacity="0.009"/><stop offset="1.00" stop-color="rgb(0,0,0)" stop-opacity="0.000"/></radialGradient><radialGradient id="g48"><stop offset="0.00" stop-color="rgb(0,0,0)" stop-opacity="0.380"/><stop offset="0.10" stop-color="rgb(0,0,0)" stop-opacity="0.363"/><stop offset="0.20" stop-color="rgb(0,0,0)" stop-opacity="0.316"/><stop offset="0.30" stop-color="rgb(0,0,0)" stop-opacity="0.251"/><stop offset="0.40" stop-color="rgb(0,0,0)" stop-opacity="0.182"/><stop offset="0.50" stop-color="rgb(0,0,0)" stop-opacity="0.120"/><stop offset="0.60" stop-color="rgb(0,0,0)" stop-opacity="0.073"/><stop offset="0.70" stop-color="rgb(0,0,0)" stop-opacity="0.040"/><stop offset="0.80" stop-color="rgb(0,0,0)" stop-opacity="0.020"/><stop offset="0.90" stop-color="rgb(0,0,0)" stop-opacity="0.009"/><stop offset="1.00" stop-color="rgb(0,0,0)" stop-opacity="0.000"/></radialGradient><radialGradient id="g49"><stop offset="0.00" stop-color="rgb(0,0,0)" stop-opacity="0.380"/><stop offset="0.10" stop-color="rgb(0,0,0)" stop-opacity="0.363"/><stop offset="0.20" stop-color="rgb(0,0,0)" stop-opacity="0.316"/><stop offset="0.30" stop-color="rgb(0,0,0)" stop-opacity="0.251"/><stop offset="0.40" stop-color="rgb(0,0,0)" stop-opacity="0.182"/><stop offset="0.50" stop-color="rgb(0,0,0)" stop-opacity="0.120"/><stop offset="0.60" stop-color="rgb(0,0,0)" stop-opacity="0.073"/><stop offset="0.70" stop-color="rgb(0,0,0)" stop-opacity="0.040"/><stop offset="0.80" stop-color="rgb(0,0,0)" stop-opacity="0.020"/><stop offset="0.90" stop-color="rgb(0,0,0)" stop-opacity="0.009"/><stop offset="1.00" stop-color="rgb(0,0,0)" stop-opacity="0.000"/></radialGradient><radialGradient id="g50"><stop offset="0.00" stop-color="rgb(0,0,0)" stop-opacity="0.380"/><stop offset="0.10" stop-color="rgb(0,0,0)" stop-opacity="0.363"/><stop offset="0.20" stop-color="rgb(0,0,0)" stop-opacity="0.316"/><stop offset="0.30" stop-color="rgb(0,0,0)" stop-opacity="0.251"/><stop offset="0.40" stop-color="rgb(0,0,0)" stop-opacity="0.182"/><stop offset="0.50" stop-color="rgb(0,0,0)" stop-opacity="0.120"/><stop offset="0.60" stop-color="rgb(0,0,0)" stop-opacity="0.073"/><stop offset="0.70" stop-color="rgb(0,0,0)" stop-opacity="0.040"/><stop offset="0.80" stop-color="rgb(0,0,0)" stop-opacity="0.020"/><stop offset="0.90" stop-color="rgb(0,0,0)" stop-opacity="0.009"/><stop offset="1.00" stop-color="rgb(0,0,0)" stop-opacity="0.000"/></radialGradient><radialGradient id="g51"><stop offset="0.00" stop-color="rgb(0,0,0)" stop-opacity="0.380"/><stop offset="0.10" stop-color="rgb(0,0,0)" stop-opacity="0.363"/><stop offset="0.20" stop-color="rgb(0,0,0)" stop-opacity="0.316"/><stop offset="0.30" stop-color="rgb(0,0,0)" stop-opacity="0.251"/><stop offset="0.40" stop-color="rgb(0,0,0)" stop-opacity="0.182"/><stop offset="0.50" stop-color="rgb(0,0,0)" stop-opacity="0.120"/><stop offset="0.60" stop-color="rgb(0,0,0)" stop-opacity="0.073"/><stop offset="0.70" stop-color="rgb(0,0,0)" stop-opacity="0.040"/><stop offset="0.80" stop-color="rgb(0,0,0)" stop-opacity="0.020"/><stop offset="0.90" stop-color="rgb(0,0,0)" stop-opacity="0.009"/><stop offset="1.00" stop-color="rgb(0,0,0)" stop-opacity="0.000"/></radialGradient><radialGradient id="g52"><stop offset="0.00" stop-color="rgb(0,0,0)" stop-opacity="0.380"/><stop offset="0.10" stop-color="rgb(0,0,0)" stop-opacity="0.363"/><stop offset="0.20" stop-color="rgb(0,0,0)" stop-opacity="0.316"/><stop offset="0.30" stop-color="rgb(0,0,0)" stop-opacity="0.251"/><stop offset="0.40" stop-color="rgb(0,0,0)" stop-opacity="0.182"/><stop offset="0.50" stop-color="rgb(0,0,0)" stop-opacity="0.120"/><stop offset="0.60" stop-color="rgb(0,0,0)" stop-opacity="0.073"/><stop offset="0.70" stop-color="rgb(0,0,0)" stop-opacity="0.040"/><stop offset="0.80" stop-color="rgb(0,0,0)" stop-opacity="0.020"/><stop offset="0.90" stop-color="rgb(0,0,0)" stop-opacity="0.009"/><stop offset="1.00" stop-color="rgb(0,0,0)" stop-opacity="0.000"/></radialGradient><radialGradient id="g53"><stop offset="0.00" stop-color="rgb(0,0,0)" stop-opacity="0.380"/><stop offset="0.10" stop-color="rgb(0,0,0)" stop-opacity="0.363"/><stop offset="0.20" stop-color="rgb(0,0,0)" stop-opacity="0.316"/><stop offset="0.30" stop-color="rgb(0,0,0)" stop-opacity="0.251"/><stop offset="0.40" stop-color="rgb(0,0,0)" stop-opacity="0.182"/><stop offset="0.50" stop-color="rgb(0,0,0)" stop-opacity="0.120"/><stop offset="0.60" stop-color="rgb(0,0,0)" stop-opacity="0.073"/><stop offset="0.70" stop-color="rgb(0,0,0)" stop-opacity="0.040"/><stop offset="0.80" stop-color="rgb(0,0,0)" stop-opacity="0.020"/><stop offset="0.90" stop-color="rgb(0,0,0)" stop-opacity="0.009"/><stop offset="1.00" stop-color="rgb(0,0,0)" stop-opacity="0.000"/></radialGradient><radialGradient id="g54"><stop offset="0.00" stop-color="rgb(0,0,0)" stop-opacity="0.380"/><stop offset="0.10" stop-color="rgb(0,0,0)" stop-opacity="0.363"/><stop offset="0.20" stop-color="rgb(0,0,0)" stop-opacity="0.316"/><stop offset="0.30" stop-color="rgb(0,0,0)" stop-opacity="0.251"/><stop offset="0.40" stop-color="rgb(0,0,0)" stop-opacity="0.182"/><stop offset="0.50" stop-color="rgb(0,0,0)" stop-opacity="0.120"/><stop offset="0.60" stop-color="rgb(0,0,0)" stop-opacity="0.073"/><stop offset="0.70" stop-color="rgb(0,0,0)" stop-opacity="0.040"/><stop offset="0.80" stop-color="rgb(0,0,0)" stop-opacity="0.020"/><stop offset="0.90" stop-color="rgb(0,0,0)" stop-opacity="0.009"/><stop offset="1.00" stop-color="rgb(0,0,0)" stop-opacity="0.000"/></radialGradient><radialGradient id="g55"><stop offset="0.00" stop-color="rgb(0,0,0)" stop-opacity="0.380"/><stop offset="0.10" stop-color="rgb(0,0,0)" stop-opacity="0.363"/><stop offset="0.20" stop-color="rgb(0,0,0)" stop-opacity="0.316"/><stop offset="0.30" stop-color="rgb(0,0,0)" stop-opacity="0.251"/><stop offset="0.40" stop-color="rgb(0,0,0)" stop-opacity="0.182"/><stop offset="0.50" stop-color="rgb(0,0,0)" stop-opacity="0.120"/><stop offset="0.60" stop-color="rgb(0,0,0)" stop-opacity="0.073"/><stop offset="0.70" stop-color="rgb(0,0,0)" stop-opacity="0.040"/><stop offset="0.80" stop-color="rgb(0,0,0)" stop-opacity="0.020"/><stop offset="0.90" stop-color="rgb(0,0,0)" stop-opacity="0.009"/><stop offset="1.00" stop-color="rgb(0,0,0)" stop-opacity="0.000"/></radialGradient><radialGradient id="g56"><stop offset="0.00" stop-color="rgb(0,0,0)" stop-opacity="0.380"/><stop offset="0.10" stop-color="rgb(0,0,0)" stop-opacity="0.363"/><stop offset="0.20" stop-color="rgb(0,0,0)" stop-opacity="0.316"/><stop offset="0.30" stop-color="rgb(0,0,0)" stop-opacity="0.251"/><stop offset="0.40" stop-color="rgb(0,0,0)" stop-opacity="0.182"/><stop offset="0.50" stop-color="rgb(0,0,0)" stop-opacity="0.120"/><stop offset="0.60" stop-color="rgb(0,0,0)" stop-opacity="0.073"/><stop offset="0.70" stop-color="rgb(0,0,0)" stop-opacity="0.040"/><stop offset="0.80" stop-color="rgb(0,0,0)" stop-opacity="0.020"/><stop offset="0.90" stop-color="rgb(0,0,0)" stop-opacity="0.009"/><stop offset="1.00" stop-color="rgb(0,0,0)" stop-opacity="0.000"/></radialGradient><radialGradient id="g57"><stop offset="0.00" stop-color="rgb(0,0,0)" stop-opacity="0.380"/><stop offset="0.10" stop-color="rgb(0,0,0)" stop-opacity="0.363"/><stop offset="0.20" stop-color="rgb(0,0,0)" stop-opacity="0.316"/><stop offset="0.30" stop-color="rgb(0,0,0)" stop-opacity="0.251"/><stop offset="0.40" stop-color="rgb(0,0,0)" stop-opacity="0.182"/><stop offset="0.50" stop-color="rgb(0,0,0)" stop-opacity="0.120"/><stop offset="0.60" stop-color="rgb(0,0,0)" stop-opacity="0.073"/><stop offset="0.70" stop-color="rgb(0,0,0)" stop-opacity="0.040"/><stop offset="0.80" stop-color="rgb(0,0,0)" stop-opacity="0.020"/><stop offset="0.90" stop-color="rgb(0,0,0)" stop-opacity="0.009"/><stop offset="1.00" stop-color="rgb(0,0,0)" stop-opacity="0.000"/></radialGradient><radialGradient id="g58"><stop offset="0.00" stop-color="rgb(0,0,0)" stop-opacity="0.380"/><stop offset="0.10" stop-color="rgb(0,0,0)" stop-opacity="0.363"/><stop offset="0.20" stop-color="rgb(0,0,0)" stop-opacity="0.316"/><stop offset="0.30" stop-color="rgb(0,0,0)" stop-opacity="0.251"/><stop offset="0.40" stop-color="rgb(0,0,0)" stop-opacity="0.182"/><stop offset="0.50" stop-color="rgb(0,0,0)" stop-opacity="0.120"/><stop offset="0.60" stop-color="rgb(0,0,0)" stop-opacity="0.073"/><stop offset="0.70" stop-color="rgb(0,0,0)" stop-opacity="0.040"/><stop offset="0.80" stop-color="rgb(0,0,0)" stop-opacity="0.020"/><stop offset="0.90" stop-color="rgb(0,0,0)" stop-opacity="0.009"/><stop offset="1.00" stop-color="rgb(0,0,0)" stop-opacity="0.000"/></radialGradient><radialGradient id="g59"><stop offset="0.00" stop-color="rgb(0,0,0)" stop-opacity="0.380"/><stop offset="0.10" stop-color="rgb(0,0,0)" stop-opacity="0.363"/><stop offset="0.20" stop-color="rgb(0,0,0)" stop-opacity="0.316"/><stop offset="0.30" stop-color="rgb(0,0,0)" stop-opacity="0.251"/><stop offset="0.40" stop-color="rgb(0,0,0)" stop-opacity="0.182"/><stop offset="0.50" stop-color="rgb(0,0,0)" stop-opacity="0.120"/><stop offset="0.60" stop-color="rgb(0,0,0)" stop-opacity="0.073"/><stop offset="0.70" stop-color="rgb(0,0,0)" stop-opacity="0.040"/><stop offset="0.80" stop-color="rgb(0,0,0)" stop-opacity="0.020"/><stop offset="0.90" stop-color="rgb(0,0,0)" stop-opacity="0.009"/><stop offset="1.00" stop-color="rgb(0,0,0)" stop-opacity="0.000"/></radialGradient><radialGradient id="g60"><stop offset="0.00" stop-color="rgb(0,0,0)" stop-opacity="0.380"/><stop offset="0.10" stop-color="rgb(0,0,0)" stop-opacity="0.363"/><stop offset="0.20" stop-color="rgb(0,0,0)" stop-opacity="0.316"/><stop offset="0.30" stop-color="rgb(0,0,0)" stop-opacity="0.251"/><stop offset="0.40" stop-color="rgb(0,0,0)" stop-opacity="0.182"/><stop offset="0.50" stop-color="rgb(0,0,0)" stop-opacity="0.120"/><stop offset="0.60" stop-color="rgb(0,0,0)" stop-opacity="0.073"/><stop offset="0.70" stop-color="rgb(0,0,0)" stop-opacity="0.040"/><stop offset="0.80" stop-color="rgb(0,0,0)" stop-opacity="0.020"/><stop offset="0.90" stop-color="rgb(0,0,0)" stop-opacity="0.009"/><stop offset="1.00" stop-color="rgb(0,0,0)" stop-opacity="0.000"/></radialGradient><radialGradient id="g61"><stop offset="0.00" stop-color="rgb(0,0,0)" stop-opacity="0.380"/><stop offset="0.10" stop-color="rgb(0,0,0)" stop-opacity="0.363"/><stop offset="0.20" stop-color="rgb(0,0,0)" stop-opacity="0.316"/><stop offset="0.30" stop-color="rgb(0,0,0)" stop-opacity="0.251"/><stop offset="0.40" stop-color="rgb(0,0,0)" stop-opacity="0.182"/><stop offset="0.50" stop-color="rgb(0,0,0)" stop-opacity="0.120"/><stop offset="0.60" stop-color="rgb(0,0,0)" stop-opacity="0.073"/><stop offset="0.70" stop-color="rgb(0,0,0)" stop-opacity="0.040"/><stop offset="0.80" stop-color="rgb(0,0,0)" stop-opacity="0.020"/><stop offset="0.90" stop-color="rgb(0,0,0)" stop-opacity="0.009"/><stop offset="1.00" stop-color="rgb(0,0,0)" stop-opacity="0.000"/></radialGradient><radialGradient id="g62"><stop offset="0.00" stop-color="rgb(0,0,0)" stop-opacity="0.380"/><stop offset="0.10" stop-color="rgb(0,0,0)" stop-opacity="0.363"/><stop offset="0.20" stop-color="rgb(0,0,0)" stop-opacity="0.316"/><stop offset="0.30" stop-color="rgb(0,0,0)" stop-opacity="0.251"/><stop offset="0.40" stop-color="rgb(0,0,0)" stop-opacity="0.182"/><stop offset="0.50" stop-color="rgb(0,0,0)" stop-opacity="0.120"/><stop offset="0.60" stop-color="rgb(0,0,0)" stop-opacity="0.073"/><stop offset="0.70" stop-color="rgb(0,0,0)" stop-opacity="0.040"/><stop offset="0.80" stop-color="rgb(0,0,0)" stop-opacity="0.020"/><stop offset="0.90" stop-color="rgb(0,0,0)" stop-opacity="0.009"/><stop offset="1.00" stop-color="rgb(0,0,0)" stop-opacity="0.000"/></radialGradient><radialGradient id="g63"><stop offset="0.00" stop-color="rgb(0,0,0)" stop-opacity="0.380"/><stop offset="0.10" stop-color="rgb(0,0,0)" stop-opacity="0.363"/><stop offset="0.20" stop-color="rgb(0,0,0)" stop-opacity="0.316"/><stop offset="0.30" stop-color="rgb(0,0,0)" stop-opacity="0.251"/><stop offset="0.40" stop-color="rgb(0,0,0)" stop-opacity="0.182"/><stop offset="0.50" stop-color="rgb(0,0,0)" stop-opacity="0.120"/><stop offset="0.60" stop-color="rgb(0,0,0)" stop-opacity="0.073"/><stop offset="0.70" stop-color="rgb(0,0,0)" stop-opacity="0.040"/><stop offset="0.80" stop-color="rgb(0,0,0)" stop-opacity="0.020"/><stop offset="0.90" stop-color="rgb(0,0,0)" stop-opacity="0.009"/><stop offset="1.00" stop-color="rgb(0,0,0)" stop-opacity="0.000"/></radialGradient><radialGradient id="g64"><stop offset="0.00" stop-color="rgb(0,0,0)" stop-opacity="0.380"/><stop offset="0.10" stop-color="rgb(0,0,0)" stop-opacity="0.363"/><stop offset="0.20" stop-color="rgb(0,0,0)" stop-opacity="0.316"/><stop offset="0.30" stop-color="rgb(0,0,0)" stop-opacity="0.251"/><stop offset="0.40" stop-color="rgb(0,0,0)" stop-opacity="0.182"/><stop offset="0.50" stop-color="rgb(0,0,0)" stop-opacity="0.120"/><stop offset="0.60" stop-color="rgb(0,0,0)" stop-opacity="0.073"/><stop offset="0.70" stop-color="rgb(0,0,0)" stop-opacity="0.040"/><stop offset="0.80" stop-color="rgb(0,0,0)" stop-opacity="0.020"/><stop offset="0.90" stop-color="rgb(0,0,0)" stop-opacity="0.009"/><stop offset="1.00" stop-color="rgb(0,0,0)" stop-opacity="0.000"/></radialGradient><radialGradient id="g65"><stop offset="0.00" stop-color="rgb(0,0,0)" stop-opacity="0.380"/><stop offset="0.10" stop-color="rgb(0,0,0)" stop-opacity="0.363"/><stop offset="0.20" stop-color="rgb(0,0,0)" stop-opacity="0.316"/><stop offset="0.30" stop-color="rgb(0,0,0)" stop-opacity="0.251"/><stop offset="0.40" stop-color="rgb(0,0,0)" stop-opacity="0.182"/><stop offset="0.50" stop-color="rgb(0,0,0)" stop-opacity="0.120"/><stop offset="0.60" stop-color="rgb(0,0,0)" stop-opacity="0.073"/><stop offset="0.70" stop-color="rgb(0,0,0)" stop-opacity="0.040"/><stop offset="0.80" stop-color="rgb(0,0,0)" stop-opacity="0.020"/><stop offset="0.90" stop-color="rgb(0,0,0)" stop-opacity="0.009"/><stop offset="1.00" stop-color="rgb(0,0,0)" stop-opacity="0.000"/></radialGradient><radialGradient id="g66"><stop offset="0.00" stop-color="rgb(0,0,0)" stop-opacity="0.380"/><stop offset="0.10" stop-color="rgb(0,0,0)" stop-opacity="0.363"/><stop offset="0.20" stop-color="rgb(0,0,0)" stop-opacity="0.316"/><stop offset="0.30" stop-color="rgb(0,0,0)" stop-opacity="0.251"/><stop offset="0.40" stop-color="rgb(0,0,0)" stop-opacity="0.182"/><stop offset="0.50" stop-color="rgb(0,0,0)" stop-opacity="0.120"/><stop offset="0.60" stop-color="rgb(0,0,0)" stop-opacity="0.073"/><stop offset="0.70" stop-color="rgb(0,0,0)" stop-opacity="0.040"/><stop offset="0.80" stop-color="rgb(0,0,0)" stop-opacity="0.020"/><stop offset="0.90" stop-color="rgb(0,0,0)" stop-opacity="0.009"/><stop offset="1.00" stop-color="rgb(0,0,0)" stop-opacity="0.000"/></radialGradient><radialGradient id="g67"><stop offset="0.00" stop-color="rgb(0,0,0)" stop-opacity="0.380"/><stop offset="0.10" stop-color="rgb(0,0,0)" stop-opacity="0.363"/><stop offset="0.20" stop-color="rgb(0,0,0)" stop-opacity="0.316"/><stop offset="0.30" stop-color="rgb(0,0,0)" stop-opacity="0.251"/><stop offset="0.40" stop-color="rgb(0,0,0)" stop-opacity="0.182"/><stop offset="0.50" stop-color="rgb(0,0,0)" stop-opacity="0.120"/><stop offset="0.60" stop-color="rgb(0,0,0)" stop-opacity="0.073"/><stop offset="0.70" stop-color="rgb(0,0,0)" stop-opacity="0.040"/><stop offset="0.80" stop-color="rgb(0,0,0)" stop-opacity="0.020"/><stop offset="0.90" stop-color="rgb(0,0,0)" stop-opacity="0.009"/><stop offset="1.00" stop-color="rgb(0,0,0)" stop-opacity="0.000"/></radialGradient><radialGradient id="abl" gradientUnits="userSpaceOnUse" cx="78.3" cy="78.4" r="90.0"><stop offset="0.0000" stop-color="rgb(245,245,245)" stop-opacity="1.000"/><stop offset="0.0333" stop-color="rgb(240,240,240)" stop-opacity="1.000"/><stop offset="0.0667" stop-color="rgb(224,224,224)" stop-opacity="1.000"/><stop offset="0.1000" stop-color="rgb(192,192,192)" stop-opacity="1.000"/><stop offset="0.1333" stop-color="rgb(152,152,152)" stop-opacity="1.000"/><stop offset="0.1667" stop-color="rgb(118,118,118)" stop-opacity="1.000"/><stop offset="0.2000" stop-color="rgb(92,92,92)" stop-opacity="1.000"/><stop offset="0.2333" stop-color="rgb(74,74,74)" stop-opacity="1.000"/><stop offset="0.2667" stop-color="rgb(62,62,62)" stop-opacity="1.000"/><stop offset="0.3111" stop-color="rgb(49,49,49)" stop-opacity="1.000"/><stop offset="0.3667" stop-color="rgb(38,38,38)" stop-opacity="1.000"/><stop offset="0.4222" stop-color="rgb(31,31,31)" stop-opacity="1.000"/><stop offset="0.5000" stop-color="rgb(24,24,24)" stop-opacity="1.000"/><stop offset="0.6111" stop-color="rgb(18,18,18)" stop-opacity="1.000"/><stop offset="0.7778" stop-color="rgb(13,13,13)" stop-opacity="1.000"/><stop offset="1.0000" stop-color="rgb(11,11,11)" stop-opacity="1.000"/></radialGradient><radialGradient id="nbr" gradientUnits="userSpaceOnUse" cx="103.0" cy="102.6" r="110.0"><stop offset="0.0000" stop-color="rgb(245,245,245)" stop-opacity="1.000"/><stop offset="0.0273" stop-color="rgb(244,244,244)" stop-opacity="1.000"/><stop offset="0.0545" stop-color="rgb(242,242,242)" stop-opacity="1.000"/><stop offset="0.0818" stop-color="rgb(237,237,237)" stop-opacity="1.000"/><stop offset="0.1091" stop-color="rgb(230,230,230)" stop-opacity="1.000"/><stop offset="0.1364" stop-color="rgb(220,220,220)" stop-opacity="1.000"/><stop offset="0.1636" stop-color="rgb(207,207,207)" stop-opacity="1.000"/><stop offset="0.1909" stop-color="rgb(193,193,193)" stop-opacity="1.000"/><stop offset="0.2182" stop-color="rgb(177,177,177)" stop-opacity="1.000"/><stop offset="0.2455" stop-color="rgb(159,159,159)" stop-opacity="1.000"/><stop offset="0.2727" stop-color="rgb(141,141,141)" stop-opacity="1.000"/><stop offset="0.3000" stop-color="rgb(123,123,123)" stop-opacity="1.000"/><stop offset="0.3273" stop-color="rgb(105,105,105)" stop-opacity="1.000"/><stop offset="0.3545" stop-color="rgb(88,88,88)" stop-opacity="1.000"/><stop offset="0.3818" stop-color="rgb(72,72,72)" stop-opacity="1.000"/><stop offset="0.4091" stop-color="rgb(58,58,58)" stop-opacity="1.000"/><stop offset="0.4364" stop-color="rgb(46,46,46)" stop-opacity="1.000"/><stop offset="0.4636" stop-color="rgb(36,36,36)" stop-opacity="1.000"/><stop offset="0.4909" stop-color="rgb(27,27,27)" stop-opacity="1.000"/><stop offset="0.5182" stop-color="rgb(20,20,20)" stop-opacity="1.000"/><stop offset="0.5455" stop-color="rgb(15,15,15)" stop-opacity="1.000"/><stop offset="0.5727" stop-color="rgb(10,10,10)" stop-opacity="1.000"/><stop offset="0.6000" stop-color="rgb(7,7,7)" stop-opacity="1.000"/><stop offset="0.6273" stop-color="rgb(5,5,5)" stop-opacity="1.000"/><stop offset="0.6545" stop-color="rgb(3,3,3)" stop-opacity="1.000"/><stop offset="0.7727" stop-color="rgb(2,2,2)" stop-opacity="1.000"/><stop offset="1.0000" stop-color="rgb(2,2,2)" stop-opacity="1.000"/></radialGradient><radialGradient id="fbr" gradientUnits="userSpaceOnUse" cx="77.9" cy="78.4" r="60.0"><stop offset="0.0000" stop-color="rgb(246,246,246)" stop-opacity="1.000"/><stop offset="0.0333" stop-color="rgb(240,240,240)" stop-opacity="1.000"/><stop offset="0.0617" stop-color="rgb(215,215,215)" stop-opacity="1.000"/><stop offset="0.0917" stop-color="rgb(160,160,160)" stop-opacity="1.000"/><stop offset="0.1167" stop-color="rgb(112,112,112)" stop-opacity="1.000"/><stop offset="0.1500" stop-color="rgb(72,72,72)" stop-opacity="1.000"/><stop offset="0.1833" stop-color="rgb(50,50,50)" stop-opacity="1.000"/><stop offset="0.2333" stop-color="rgb(34,34,34)" stop-opacity="1.000"/><stop offset="0.3000" stop-color="rgb(23,23,23)" stop-opacity="1.000"/><stop offset="0.4000" stop-color="rgb(15,15,15)" stop-opacity="1.000"/><stop offset="0.5333" stop-color="rgb(12,12,12)" stop-opacity="1.000"/><stop offset="1.0000" stop-color="rgb(11,11,11)" stop-opacity="1.000"/></radialGradient><radialGradient id="abr" gradientUnits="userSpaceOnUse" cx="78.6" cy="77.3" r="60.0"><stop offset="0.0000" stop-color="rgb(246,246,246)" stop-opacity="1.000"/><stop offset="0.0333" stop-color="rgb(240,240,240)" stop-opacity="1.000"/><stop offset="0.0617" stop-color="rgb(215,215,215)" stop-opacity="1.000"/><stop offset="0.0917" stop-color="rgb(160,160,160)" stop-opacity="1.000"/><stop offset="0.1167" stop-color="rgb(112,112,112)" stop-opacity="1.000"/><stop offset="0.1500" stop-color="rgb(72,72,72)" stop-opacity="1.000"/><stop offset="0.1833" stop-color="rgb(50,50,50)" stop-opacity="1.000"/><stop offset="0.2333" stop-color="rgb(34,34,34)" stop-opacity="1.000"/><stop offset="0.3000" stop-color="rgb(23,23,23)" stop-opacity="1.000"/><stop offset="0.4000" stop-color="rgb(15,15,15)" stop-opacity="1.000"/><stop offset="0.5333" stop-color="rgb(12,12,12)" stop-opacity="1.000"/><stop offset="1.0000" stop-color="rgb(11,11,11)" stop-opacity="1.000"/></radialGradient></defs>
<text x="24.0" y="26.2" font-size="33.0" text-anchor="middle" font-weight="bold" fill="#000" >a</text>
<text transform="translate(293.4 55.8) scale(1 1.060)" font-size="31.0" text-anchor="middle" font-weight="bold" fill="#000" >Power</text>
<path d="M96.2 69.8 H490.7 V393.1" fill="none" stroke="#444" stroke-width="1.4"/>
<path d="M96.2 69.0 V393.1 H491.5" fill="none" stroke="#000" stroke-width="2.2"/>
<line x1="110.2" y1="393.1" x2="110.2" y2="398.1" stroke="#000" stroke-width="2.2"/>
<text x="110.2" y="437.4" font-size="26.6" text-anchor="middle" font-weight="normal" fill="#000" >2</text>
<line x1="205.3" y1="393.1" x2="205.3" y2="398.1" stroke="#000" stroke-width="2.2"/>
<text x="205.3" y="437.4" font-size="26.6" text-anchor="middle" font-weight="normal" fill="#000" >4</text>
<line x1="300.4" y1="393.1" x2="300.4" y2="398.1" stroke="#000" stroke-width="2.2"/>
<text x="300.4" y="437.4" font-size="26.6" text-anchor="middle" font-weight="normal" fill="#000" >6</text>
<line x1="395.6" y1="393.1" x2="395.6" y2="398.1" stroke="#000" stroke-width="2.2"/>
<text x="395.6" y="437.4" font-size="26.6" text-anchor="middle" font-weight="normal" fill="#000" >8</text>
<line x1="490.7" y1="393.1" x2="490.7" y2="398.1" stroke="#000" stroke-width="2.2"/>
<text x="490.7" y="437.4" font-size="26.6" text-anchor="middle" font-weight="normal" fill="#000" >10</text>
<line x1="91.2" y1="393.1" x2="96.2" y2="393.1" stroke="#000" stroke-width="2.2"/>
<text x="78.9" y="404.4" font-size="26.6" text-anchor="end" font-weight="normal" fill="#000" >0</text>
<line x1="91.2" y1="231.5" x2="96.2" y2="231.5" stroke="#000" stroke-width="2.2"/>
<text x="78.9" y="242.8" font-size="26.6" text-anchor="end" font-weight="normal" fill="#000" >0.4</text>
<line x1="91.2" y1="69.8" x2="96.2" y2="69.8" stroke="#000" stroke-width="2.2"/>
<text x="78.9" y="81.1" font-size="26.6" text-anchor="end" font-weight="normal" fill="#000" >0.8</text>
<text transform="translate(24.6,231.7) rotate(-90)" font-size="31.5" text-anchor="middle">I (a. u.)</text>
<g clip-path="url(#clipA)">
<polyline points="96.7,383.3 98.7,382.2 100.7,381.2 102.7,380.1 104.7,379.0 106.7,377.9 108.7,376.8 110.7,375.7 112.7,374.5 114.7,373.4 116.7,372.2 118.7,371.1 120.7,369.9 122.7,368.7 124.7,367.5 126.7,366.3 128.7,365.1 130.7,363.9 132.7,362.6 134.7,361.4 136.7,360.1 138.7,358.9 140.7,357.6 142.7,356.3 144.7,355.0 146.7,353.7 148.7,352.4 150.7,351.1 152.7,349.8 154.7,348.4 156.7,347.1 158.7,345.7 160.7,344.4 162.7,343.0 164.7,341.6 166.7,340.2 168.7,338.8 170.7,337.4 172.7,336.0 174.7,334.6 176.7,333.2 178.7,331.7 180.7,330.3 182.7,328.8 184.7,327.4 186.7,325.9 188.7,324.4 190.7,322.9 192.7,321.5 194.7,320.0 196.7,318.5 198.7,316.9 200.7,315.4 202.7,313.9 204.7,312.4 206.7,310.8 208.7,309.3 210.7,307.7 212.7,306.2 214.7,304.6 216.7,303.1 218.7,301.5 220.7,299.9 222.7,298.3 224.7,296.7 226.7,295.1 228.7,293.5 230.7,291.9 232.7,290.3 234.7,288.7 236.7,287.0 238.7,285.4 240.7,283.8 242.7,282.1 244.7,280.5 246.7,278.8 248.7,277.2 250.7,275.5 252.7,273.9 254.7,272.2 256.7,270.5 258.7,268.8 260.7,267.2 262.7,265.5 264.7,263.8 266.7,262.1 268.7,260.4 270.7,258.7 272.7,257.0 274.7,255.3 276.7,253.5 278.7,251.8 280.7,250.1 282.7,248.4 284.7,246.6 286.7,244.9 288.7,243.2 290.7,241.4 292.7,239.7 294.7,237.9 296.7,236.2 298.7,234.4 300.7,232.7 302.7,230.9 304.7,229.2 306.7,227.4 308.7,225.7 310.7,223.9 312.7,222.1 314.7,220.4 316.7,218.6 318.7,216.8 320.7,215.0 322.7,213.3 324.7,211.5 326.7,209.7 328.7,207.9 330.7,206.1 332.7,204.3 334.7,202.6 336.7,200.8 338.7,199.0 340.7,197.2 342.7,195.4 344.7,193.6 346.7,191.8 348.7,190.0 350.7,188.2 352.7,186.4 354.7,184.6 356.7,182.8 358.7,181.0 360.7,179.3 362.7,177.5 364.7,175.7 366.7,173.9 368.7,172.1 370.7,170.3 372.7,168.5 374.7,166.7 376.7,164.9 378.7,163.1 380.7,161.3 382.7,159.5 384.7,157.7 386.7,155.9 388.7,154.1 390.7,152.3 392.7,150.6 394.7,148.8 396.7,147.0 398.7,145.2 400.7,143.4 402.7,141.6 404.7,139.9 406.7,138.1 408.7,136.3 410.7,134.5 412.7,132.8 414.7,131.0 416.7,129.2 418.7,127.4 420.7,125.7 422.7,123.9 424.7,122.2 426.7,120.4 428.7,118.6 430.7,116.9 432.7,115.1 434.7,113.4 436.7,111.7 438.7,109.9 440.7,108.2 442.7,106.4 444.7,104.7 446.7,103.0 448.7,101.3 450.7,99.5 452.7,97.8 454.7,96.1 456.7,94.4 458.7,92.7 460.7,91.0 462.7,89.3 464.7,87.6 466.7,85.9 468.7,84.2 470.7,82.6 472.7,80.9 474.7,79.2 476.7,77.5 478.7,75.9 480.7,74.2 482.7,72.6 484.7,70.9 486.7,69.3 488.7,67.6 490.7,66.0 492.0,64.9" fill="none" stroke="#000000" stroke-width="2.80" stroke-linejoin="round" stroke-linecap="round" />
<polyline points="96.7,383.1 98.7,382.2 100.7,381.3 102.7,380.4 104.7,379.4 106.7,378.4 108.7,377.4 110.7,376.4 112.7,375.4 114.7,374.3 116.7,373.3 118.7,372.2 120.7,371.1 122.7,370.0 124.7,368.9 126.7,367.8 128.7,366.6 130.7,365.5 132.7,364.4 134.7,363.2 136.7,362.1 138.7,360.9 140.7,359.7 142.7,358.5 144.7,357.4 146.7,356.2 148.7,355.0 150.7,353.8 152.7,352.7 154.7,351.5 156.7,350.3 158.7,349.2 160.7,348.0 162.7,346.8 164.7,345.7 166.7,344.5 168.7,343.4 170.7,342.2 172.7,341.1 174.7,339.9 176.7,338.8 178.7,337.6 180.7,336.5 182.7,335.4 184.7,334.2 186.7,333.1 188.7,332.0 190.7,330.9 192.7,329.7 194.7,328.6 196.7,327.5 198.7,326.4 200.7,325.3 202.7,324.1 204.7,323.0 206.7,321.9 208.7,320.8 210.7,319.7 212.7,318.6 214.7,317.4 216.7,316.3 218.7,315.2 220.7,314.0 222.7,312.9 224.7,311.7 226.7,310.6 228.7,309.4 230.7,308.2 232.7,307.1 234.7,305.9 236.7,304.7 238.7,303.4 240.7,302.2 242.7,301.0 244.7,299.7 246.7,298.4 248.7,297.2 250.7,295.9 252.7,294.5 254.7,293.2 256.7,291.9 258.7,290.5 260.7,289.1 262.7,287.7 264.7,286.3 266.7,284.8 268.7,283.3 270.7,281.9 272.7,280.3 274.7,278.8 276.7,277.2 278.7,275.6 280.7,274.0 282.7,272.4 284.7,270.8 286.7,269.1 288.7,267.4 290.7,265.7 292.7,264.0 294.7,262.3 296.7,260.6 298.7,258.9 300.7,257.2 302.7,255.5 304.7,253.7 306.7,252.0 308.7,250.3 310.7,248.6 312.7,246.9 314.7,245.2 316.7,243.5 318.7,241.8 320.7,240.1 322.7,238.4 324.7,236.7 326.7,235.1 328.7,233.4 330.7,231.7 332.7,230.1 334.7,228.4 336.7,226.7 338.7,225.1 340.7,223.4 342.7,221.7 344.7,220.1 346.7,218.4 348.7,216.8 350.7,215.1 352.7,213.4 354.7,211.8 356.7,210.1 358.7,208.5 360.7,206.8 362.7,205.1 364.7,203.4 366.7,201.8 368.7,200.1 370.7,198.4 372.7,196.7 374.7,195.1 376.7,193.4 378.7,191.7 380.7,190.0 382.7,188.3 384.7,186.6 386.7,185.0 388.7,183.3 390.7,181.6 392.7,179.9 394.7,178.2 396.7,176.5 398.7,174.8 400.7,173.1 402.7,171.4 404.7,169.7 406.7,168.0 408.7,166.3 410.7,164.6 412.7,162.9 414.7,161.2 416.7,159.5 418.7,157.8 420.7,156.1 422.7,154.4 424.7,152.7 426.7,151.0 428.7,149.3 430.7,147.6 432.7,145.9 434.7,144.2 436.7,142.5 438.7,140.9 440.7,139.2 442.7,137.5 444.7,135.8 446.7,134.1 448.7,132.4 450.7,130.7 452.7,129.0 454.7,127.3 456.7,125.6 458.7,123.9 460.7,122.2 462.7,120.5 464.7,118.8 466.7,117.2 468.7,115.5 470.7,113.8 472.7,112.1 474.7,110.4 476.7,108.8 478.7,107.1 480.7,105.4 482.7,103.7 484.7,102.1 486.7,100.4 488.7,98.7 490.4,97.3" fill="none" stroke="#f00000" stroke-width="2.80" stroke-linejoin="round" stroke-linecap="round" />
<polyline points="96.3,384.6 98.3,383.6 100.3,382.6 102.3,381.6 104.3,380.5 106.3,379.5 108.3,378.5 110.3,377.4 112.3,376.3 114.3,375.3 116.3,374.2 118.3,373.1 120.3,372.0 122.3,370.8 124.3,369.7 126.3,368.6 128.3,367.4 130.3,366.3 132.3,365.1 134.3,364.0 136.3,362.8 138.3,361.6 140.3,360.4 142.3,359.2 144.3,358.0 146.3,356.8 148.3,355.6 150.3,354.4 152.3,353.2 154.3,352.0 156.3,350.8 158.3,349.6 160.3,348.4 162.3,347.1 164.3,345.9 166.3,344.7 168.3,343.5 170.3,342.3 172.3,341.0 174.3,339.8 176.3,338.6 178.3,337.4 180.3,336.2 182.3,335.0 184.3,333.8 186.3,332.6 188.3,331.4 190.3,330.2 192.3,329.0 194.3,327.8 196.3,326.6 198.3,325.5 200.3,324.3 202.3,323.1 204.3,322.0 206.3,320.8 208.3,319.7 210.3,318.6 212.3,317.5 214.3,316.4 216.3,315.3 218.3,314.2 220.3,313.1 222.3,312.0 224.3,311.0 226.3,309.9 228.3,308.9 230.3,307.9 232.3,306.9 234.3,305.9 236.3,304.9 238.3,303.9 240.3,303.0 242.3,302.0 244.3,301.1 246.3,300.2 248.3,299.3 250.3,298.4 252.3,297.6 254.3,296.8 256.3,295.9 258.3,295.1 260.3,294.3 262.3,293.6 264.3,292.8 266.3,292.1 268.3,291.4 270.3,290.7 272.0,290.2 273.7,288.4 278.4,283.7 278.4,283.5 280.4,282.1 282.4,280.8 284.4,279.4 286.4,278.0 288.4,276.6 290.4,275.1 292.4,273.7 294.4,272.2 296.4,270.8 298.4,269.3 300.4,267.8 302.4,266.3 304.4,264.8 306.4,263.3 308.4,261.7 310.4,260.2 312.4,258.6 314.4,257.1 316.4,255.5 318.4,253.9 320.4,252.3 322.4,250.7 324.4,249.1 326.4,247.5 328.4,245.9 330.4,244.2 332.4,242.6 334.4,240.9 336.4,239.3 338.4,237.6 340.4,235.9 342.4,234.3 344.4,232.6 346.4,230.9 348.4,229.2 350.4,227.5 352.4,225.8 354.4,224.1 356.4,222.4 358.4,220.7 360.4,218.9 362.4,217.2 364.4,215.5 366.4,213.8 368.4,212.0 370.4,210.3 372.4,208.5 374.4,206.8 376.4,205.1 378.4,203.3 380.4,201.6 382.4,199.8 384.4,198.1 386.4,196.3 388.4,194.6 390.4,192.8 392.4,191.0 394.4,189.3 396.4,187.5 398.4,185.8 400.4,184.0 402.4,182.3 404.4,180.5 406.4,178.8 408.4,177.1 410.4,175.3 412.4,173.6 414.4,171.8 416.4,170.1 418.4,168.4 420.4,166.7 422.4,164.9 424.4,163.2 426.4,161.5 428.4,159.8 430.4,158.1 432.4,156.4 434.4,154.7 436.4,153.0 438.4,151.3 440.4,149.7 442.4,148.0 444.4,146.3 446.4,144.7 448.4,143.0 450.4,141.4 452.4,139.7 454.4,138.1 456.4,136.5 458.4,134.9 460.4,133.3 462.4,131.7 464.4,130.1 466.4,128.5 468.4,127.0 470.4,125.4 472.4,123.9 474.4,122.3 476.4,120.8 478.4,119.3 480.4,117.8 482.4,116.3 484.4,114.8 486.4,113.4 488.4,111.9 490.4,110.5" fill="none" stroke="#00ee00" stroke-width="2.80" stroke-linejoin="round" stroke-linecap="round" />
<polyline points="96.7,387.7 98.7,386.8 100.7,385.8 102.7,384.9 104.7,383.9 106.7,382.9 108.7,381.9 110.7,380.9 112.7,379.8 114.7,378.7 116.7,377.6 118.7,376.5 120.7,375.4 122.7,374.2 124.7,373.0 126.7,371.9 128.7,370.7 130.7,369.4 132.7,368.2 134.7,367.0 136.7,365.7 138.7,364.5 140.7,363.2 142.7,361.9 144.7,360.6 146.7,359.3 148.7,358.0 150.7,356.7 152.7,355.4 154.7,354.1 156.7,352.8 158.7,351.4 160.7,350.1 162.7,348.8 164.7,347.5 166.7,346.2 168.7,344.8 170.7,343.5 172.7,342.2 174.7,340.9 176.7,339.6 178.7,338.3 180.7,337.0 182.7,335.7 184.7,334.4 186.7,333.1 188.7,331.8 190.7,330.6 192.7,329.3 194.7,328.0 196.7,326.8 198.7,325.5 200.7,324.3 202.7,323.0 204.7,321.8 206.7,320.5 208.7,319.3 210.7,318.0 212.7,316.8 214.7,315.6 216.7,314.3 218.7,313.1 220.7,311.9 222.7,310.7 224.7,309.4 226.7,308.2 228.7,307.0 230.7,305.8 232.7,304.6 234.7,303.4 236.7,302.2 238.7,300.9 240.7,299.7 242.7,298.5 244.7,297.4 246.7,296.2 248.7,295.0 250.7,293.8 252.7,292.6 254.7,291.5 256.7,290.3 258.7,289.1 260.7,288.0 262.7,286.9 264.7,285.7 266.7,284.6 268.7,283.5 270.7,282.4 272.7,281.2 274.7,280.1 276.7,279.1 278.7,278.0 280.7,276.9 282.7,275.8 284.7,274.8 286.7,273.7 288.7,272.7 290.7,271.7 292.7,270.7 294.7,269.7 296.7,268.7 298.7,267.7 300.7,266.7 302.7,265.7 304.7,264.7 306.7,263.7 308.7,262.7 310.7,261.8 312.7,260.8 314.7,259.8 316.7,258.8 318.7,257.9 320.7,256.9 322.7,255.9 324.7,254.9 326.7,253.9 328.7,252.9 330.7,251.9 332.7,250.9 334.7,249.8 336.7,248.8 338.7,247.8 340.7,246.7 342.7,245.6 343.5,245.2 350.5,239.5 356.3,231.4 356.3,232.0 358.3,230.3 360.3,228.6 362.3,226.9 364.3,225.3 366.3,223.6 368.3,221.9 370.3,220.2 372.3,218.5 374.3,216.9 376.3,215.2 378.3,213.5 380.3,211.9 382.3,210.2 384.3,208.6 386.3,206.9 388.3,205.3 390.3,203.6 392.3,202.0 394.3,200.3 396.3,198.7 398.3,197.0 400.3,195.4 402.3,193.7 404.3,192.1 406.3,190.4 408.3,188.8 410.3,187.1 412.3,185.5 414.3,183.9 416.3,182.2 418.3,180.6 420.3,178.9 422.3,177.3 424.3,175.7 426.3,174.0 428.3,172.4 430.3,170.7 432.3,169.1 434.3,167.4 436.3,165.8 438.3,164.1 440.3,162.5 442.3,160.8 444.3,159.2 446.3,157.5 448.3,155.9 450.3,154.2 452.3,152.6 454.3,150.9 456.3,149.2 458.3,147.6 460.3,145.9 462.3,144.2 464.3,142.5 466.3,140.9 468.3,139.2 470.3,137.5 472.3,135.8 474.3,134.1 476.3,132.4 478.3,130.7 480.3,129.0 482.3,127.3 484.3,125.6 486.3,123.9 488.3,122.2 490.3,120.4 490.4,120.4" fill="none" stroke="#0000e0" stroke-width="2.80" stroke-linejoin="round" stroke-linecap="round" />
</g>
<rect x="102.3" y="72.3" width="189" height="154.3" fill="#fff" stroke="#1a1a1a" stroke-width="2.4"/>
<line x1="120" y1="95.3" x2="218" y2="95.3" stroke="#000000" stroke-width="2.6"/>
<text x="226.5" y="106.1" font-size="26.5" text-anchor="start" font-weight="normal" fill="#000" >ref.</text>
<line x1="120" y1="131.3" x2="218" y2="131.3" stroke="#f00000" stroke-width="2.6"/>
<text x="226.5" y="142.1" font-size="26.5" text-anchor="start" font-weight="normal" fill="#000" >exp.</text>
<line x1="120" y1="167.3" x2="218" y2="167.3" stroke="#00ee00" stroke-width="2.6"/>
<text x="226.5" y="178.1" font-size="26.5" text-anchor="start" font-weight="normal" fill="#000" >2x</text>
<line x1="120" y1="203.3" x2="218" y2="203.3" stroke="#0000e0" stroke-width="2.6"/>
<text x="226.5" y="214.1" font-size="26.5" text-anchor="start" font-weight="normal" fill="#000" >4x</text>
<text x="525.8" y="26.2" font-size="33.0" text-anchor="start" font-weight="bold" fill="#000" >b</text>
<text transform="translate(814.0 55.8) scale(1 1.060)" font-size="31.0" text-anchor="middle" font-weight="bold" fill="#000" >Brightness</text>
<path d="M616.1 69.8 H1012.3 V393.2" fill="none" stroke="#444" stroke-width="1.4"/>
<path d="M616.1 69.0 V393.2 H1013.1" fill="none" stroke="#000" stroke-width="2.2"/>
<line x1="630.1" y1="393.2" x2="630.1" y2="398.2" stroke="#000" stroke-width="2.2"/>
<text x="630.1" y="437.5" font-size="26.6" text-anchor="middle" font-weight="normal" fill="#000" >2</text>
<line x1="725.6" y1="393.2" x2="725.6" y2="398.2" stroke="#000" stroke-width="2.2"/>
<text x="725.6" y="437.5" font-size="26.6" text-anchor="middle" font-weight="normal" fill="#000" >4</text>
<line x1="821.1" y1="393.2" x2="821.1" y2="398.2" stroke="#000" stroke-width="2.2"/>
<text x="821.1" y="437.5" font-size="26.6" text-anchor="middle" font-weight="normal" fill="#000" >6</text>
<line x1="916.6" y1="393.2" x2="916.6" y2="398.2" stroke="#000" stroke-width="2.2"/>
<text x="916.6" y="437.5" font-size="26.6" text-anchor="middle" font-weight="normal" fill="#000" >8</text>
<line x1="1012.1" y1="393.2" x2="1012.1" y2="398.2" stroke="#000" stroke-width="2.2"/>
<text x="1012.1" y="437.5" font-size="26.6" text-anchor="middle" font-weight="normal" fill="#000" >10</text>
<line x1="611.1" y1="393.2" x2="616.1" y2="393.2" stroke="#000" stroke-width="2.2"/>
<text x="598.8" y="404.5" font-size="26.6" text-anchor="end" font-weight="normal" fill="#000" >0</text>
<line x1="611.1" y1="231.5" x2="616.1" y2="231.5" stroke="#000" stroke-width="2.2"/>
<text x="598.8" y="242.8" font-size="26.6" text-anchor="end" font-weight="normal" fill="#000" >8</text>
<line x1="611.1" y1="69.8" x2="616.1" y2="69.8" stroke="#000" stroke-width="2.2"/>
<text x="598.8" y="81.1" font-size="26.6" text-anchor="end" font-weight="normal" fill="#000" >16</text>
<text x="813.5" y="480.5" font-size="31.5" text-anchor="middle">D<tspan font-size="21.5" dx="0.8" dy="14.8">0</tspan><tspan dx="1.6" dy="-14.8"> (a. u.)</tspan></text>
<text transform="translate(540.2,231.7) rotate(-90)" font-size="31.5" text-anchor="middle">B<tspan font-size="22.5" dx="2.5" dy="14.3">norm</tspan><tspan dx="2.5" dy="-14.3"> (a. u.)</tspan></text>
<g clip-path="url(#clipB)">
<polyline points="616.3,378.6 618.3,376.0 620.3,373.1 622.3,369.9 624.3,366.6 626.3,363.1 628.3,359.5 630.3,355.7 632.3,351.8 634.3,347.8 636.3,343.8 638.3,339.7 640.3,335.6 642.3,331.4 644.3,327.3 646.3,323.2 648.3,319.2 650.3,315.2 652.3,311.4 654.3,307.6 656.3,303.9 658.3,300.3 660.3,296.6 662.3,292.9 664.3,289.2 666.3,285.2 668.3,281.2 670.3,276.9 672.3,272.4 674.3,267.8 676.3,263.1 678.3,258.2 680.3,253.4 682.3,248.5 684.3,243.7 686.3,239.0 688.3,234.3 690.3,229.7 692.3,225.0 694.3,220.4 696.3,215.8 698.3,211.1 700.3,206.5 702.3,201.9 704.3,197.3 706.3,192.8 708.3,188.4 710.3,184.0 712.3,179.8 714.3,175.6 716.3,171.4 718.3,167.4 720.3,163.4 722.3,159.5 724.3,155.7 726.3,151.9 728.3,148.2 730.3,144.6 732.3,141.1 734.3,137.7 736.3,134.3 738.3,131.1 740.3,127.9 742.3,124.8 744.3,121.8 746.3,118.8 748.3,116.0 750.3,113.3 752.3,110.6 754.3,108.0 756.3,105.5 758.3,103.1 760.3,100.8 762.3,98.6 764.3,96.5 766.3,94.5 768.3,92.6 770.3,90.7 772.3,89.0 774.3,87.3 776.3,85.8 778.3,84.3 780.3,83.0 782.3,81.7 784.3,80.6 786.3,79.5 788.3,78.6 790.3,77.7 792.3,77.0 794.3,76.3 796.3,75.8 798.3,75.3 800.3,75.0 802.3,74.8 804.3,74.6 806.3,74.6 808.3,74.7 810.3,74.9 812.3,75.1 814.3,75.5 816.3,76.0 818.3,76.5 820.3,77.1 822.3,77.7 824.3,78.4 826.3,79.2 828.3,80.0 830.3,80.8 832.3,81.7 834.3,82.6 836.3,83.5 838.3,84.5 840.3,85.4 842.3,86.3 844.3,87.3 846.3,88.2 848.3,89.1 850.3,89.9 851.4,90.4 856.8,100.0 862.7,111.8 865.2,122.0 866.9,133.8 871.1,141.4 873.7,131.3 877.1,138.9 880.4,147.4 883.0,159.2 885.5,174.4 885.9,185.4 888.1,177.8 890.6,195.6 893.6,199.8 895.7,216.7 899.9,231.9 902.4,229.4 907.5,235.3 910.0,250.5 913.4,251.4 916.8,259.0 922.1,277.1 926.8,285.6 932.1,288.8 935.2,299.3 938.4,296.2 941.2,308.8 945.8,296.2 949.0,305.7 954.3,310.9 961.7,317.3 965.9,314.1 969.1,327.9 972.2,322.6 975.4,326.8 983.9,328.9 988.1,332.1 993.4,338.4 998.6,335.2 1005.0,340.5 1011.3,343.7" fill="none" stroke="#0000e0" stroke-width="2.80" stroke-linejoin="round" stroke-linecap="round" />
<polyline points="796.0,282.4 800.0,283.7 803.1,287.3 806.3,289.4 809.0,287.5 811.6,284.9 814.2,286.3 816.9,289.3 821.1,287.7 823.8,288.0 826.4,290.0 829.0,292.5 831.7,290.8 834.9,298.3 838.0,308.7 840.2,297.6 842.8,300.3 845.4,306.1 848.0,311.1 850.7,314.2 854.9,308.6 858.1,312.0 861.3,313.8 864.5,319.7 867.6,322.9 870.2,317.7 872.9,312.6 876.1,323.8 878.8,325.7 881.4,329.6 884.0,328.5 886.6,326.4 889.8,328.6 893.0,328.6 896.1,330.9 899.3,330.8 902.5,334.0 905.7,335.4 908.9,331.3 912.0,329.8 916.2,325.9 918.9,333.0 921.5,336.1 924.1,337.3 926.8,336.8 930.0,339.5 933.1,341.2 935.8,344.3 938.4,348.2 941.0,345.5 943.7,343.9 946.2,342.8 948.6,343.3 951.1,342.7 953.8,345.8 956.4,347.4 959.5,347.4 962.7,351.2 965.9,348.9 969.1,346.1 973.3,350.2 976.1,349.7 978.9,347.0 981.7,348.0 986.0,353.4 988.8,352.9 991.6,352.5 994.4,355.4 997.6,356.9 1000.8,355.1 1003.3,357.9 1005.7,357.2 1008.2,357.0 1011.3,352.2" fill="none" stroke="#00ee00" stroke-width="2.80" stroke-linejoin="round" stroke-linecap="round" />
<polyline points="616.3,378.7 618.3,375.9 620.3,373.0 622.3,370.1 624.3,367.0 626.3,363.9 628.3,360.7 630.3,357.4 632.3,354.1 634.3,350.7 636.3,347.3 638.3,343.8 640.3,340.3 642.3,336.8 644.3,333.3 646.3,329.7 648.3,326.1 650.3,322.6 652.3,319.0 654.3,315.5 656.3,311.9 658.3,308.4 660.3,304.9 662.3,301.4 664.3,297.9 666.3,294.4 668.3,291.0 670.3,287.5 672.3,284.1 674.3,280.7 676.3,277.3 678.3,273.9 680.3,270.6 682.3,267.3 684.3,264.1 686.3,261.0 688.3,258.0 690.3,255.1 692.3,252.4 694.3,249.8 696.3,247.3 698.3,244.9 700.3,242.7 702.3,240.6 704.3,238.7 706.3,236.9 708.3,235.2 710.3,233.7 712.3,232.3 714.3,231.0 716.3,229.9 718.3,228.9 720.3,227.9 722.3,227.0 724.3,226.2 726.3,225.5 728.3,224.8 730.3,224.1 732.3,223.5 732.6,223.4 733.5,224.5 735.5,228.9 737.5,233.0 739.5,236.8 741.5,240.4 743.5,243.7 745.5,246.8 747.5,249.7 749.5,252.3 751.5,254.8 753.5,257.0 755.5,259.1 757.5,261.1 759.5,262.8 761.5,264.5 763.5,266.0 765.5,267.4 767.5,268.6 769.5,269.8 771.5,270.9 773.5,272.0 775.5,273.0 777.5,273.9 779.5,274.8 781.5,275.7 783.5,276.5 785.5,277.4 787.5,278.3 789.5,279.2 791.5,280.1 793.5,281.1 795.5,282.1 796.0,282.4" fill="none" stroke="#00ee00" stroke-width="2.80" stroke-linejoin="round" stroke-linecap="round" />
<polyline points="705.1,318.3 707.4,318.2 709.8,318.5 712.1,320.1 714.5,320.1 716.8,320.6 719.2,322.3 721.5,324.5 723.9,324.9 726.2,325.5 728.6,324.2 730.9,325.5 733.3,325.1 735.6,325.1 738.0,325.3 740.3,326.0 742.7,328.5 745.0,328.5 747.4,328.8 750.0,329.6 752.6,328.5 755.3,329.7 757.9,331.4 760.3,332.2 762.7,333.0 765.1,333.5 767.6,331.6 770.0,333.6 772.4,334.3 774.8,334.2 777.3,333.8 779.7,335.2 782.2,334.6 784.7,337.6 787.1,338.0 789.6,337.5 792.2,337.6 794.8,340.2 797.4,339.9 800.0,341.6 802.8,341.9 805.7,341.3 808.5,341.3 811.6,340.3 814.8,338.2 817.3,338.1 819.7,339.2 822.2,341.4 824.6,339.9 827.0,340.7 829.3,343.3 831.7,343.0 834.4,342.2 837.0,340.4 841.2,345.3 843.7,345.9 846.1,342.1 848.6,341.3 851.8,344.9 854.9,350.4 858.1,347.2 861.3,345.4 864.1,347.2 866.9,346.7 869.7,348.1 872.9,350.7 876.1,349.9 878.9,348.7 881.7,348.2 884.5,348.7 887.3,349.7 890.2,350.0 893.0,351.7 895.8,350.5 898.6,350.6 901.4,348.6 904.2,352.0 907.1,354.1 909.9,355.7 912.7,354.3 915.5,354.3 918.3,350.8 921.1,353.3 924.0,357.1 926.8,358.2 929.6,356.8 932.4,358.1 935.2,356.8 938.0,358.4 940.9,357.8 943.7,358.6 946.5,359.0 949.4,357.7 952.2,358.1 955.0,361.3 957.8,360.8 960.6,361.2 963.4,361.0 966.3,361.0 969.1,362.6 971.9,362.0 974.7,362.5 977.5,362.6 980.3,364.9 983.2,362.8 986.0,361.8 988.8,362.1 991.6,362.8 994.4,363.8 997.2,365.7 1000.1,364.5 1002.9,364.5 1005.7,366.6 1008.5,366.5 1011.3,368.0" fill="none" stroke="#f00000" stroke-width="2.80" stroke-linejoin="round" stroke-linecap="round" />
<polyline points="616.3,378.5 618.3,376.5 620.3,374.3 622.3,372.1 624.3,369.7 626.3,367.2 628.3,364.7 630.3,362.0 632.3,359.3 634.3,356.5 636.3,353.7 638.3,350.9 640.3,348.0 642.3,345.0 644.3,342.1 646.3,339.2 648.3,336.2 650.3,333.3 652.3,330.5 654.3,327.6 656.3,324.8 658.3,322.1 660.3,319.5 662.3,316.9 664.3,314.4 666.3,312.0 668.3,309.7 670.3,307.5 672.3,305.5 674.3,303.6 676.3,301.8 678.3,300.3 678.7,300.0 686.1,307.8 705.1,318.3" fill="none" stroke="#f00000" stroke-width="2.80" stroke-linejoin="round" stroke-linecap="round" />
<polyline points="616.3,378.6 618.8,378.8 621.2,379.0 623.7,378.9 626.2,379.2 628.6,378.2 631.1,378.6 633.8,375.8 636.4,377.7 639.1,379.8 641.7,379.1 644.4,379.5 647.0,376.2 649.6,376.9 652.3,375.6 654.6,376.9 657.0,377.2 659.3,375.3 661.7,376.3 664.0,376.7 666.3,378.6 668.5,377.8 670.8,375.2 673.1,377.2 675.3,374.4 677.6,375.8 680.0,373.6 682.4,372.7 684.8,375.4 687.3,372.5 689.7,372.1 692.1,374.4 694.5,373.5 697.1,371.6 699.8,374.3 702.4,372.9 705.0,373.6 707.7,370.7 710.4,372.1 713.0,369.9 715.7,369.7 718.1,369.9 720.5,368.3 722.9,369.0 725.2,368.8 727.6,369.2 730.0,369.4 732.5,369.8 735.1,370.4 737.6,367.7 740.1,369.6 742.7,367.9 745.2,367.3 747.7,369.6 750.1,368.9 752.6,368.8 755.1,369.9 757.5,371.2 760.0,369.4 762.4,372.7 764.8,369.3 767.1,372.0 769.5,372.3 771.9,369.4 774.2,372.2 776.6,370.7 779.0,371.5 781.4,369.0 783.7,368.6 786.1,368.7 788.4,371.0 790.8,367.8 793.1,369.3 795.5,369.5 797.8,369.1 800.2,366.4 803.2,371.7 805.6,372.3 808.0,373.2 810.3,370.8 812.7,373.1 815.3,372.5 818.0,371.9 820.6,368.1 823.2,370.6 826.0,368.3 828.9,369.9 831.7,371.6 834.4,372.7 837.0,370.6 839.6,372.7 842.3,371.4 844.8,370.7 847.3,370.9 849.9,370.6 852.4,370.5 854.9,370.9 857.4,373.6 859.8,375.4 862.3,373.1 864.7,371.8 867.0,374.3 869.4,371.7 871.8,370.4 874.3,370.1 876.9,371.6 879.4,372.8 882.0,371.7 884.5,371.9 887.0,370.8 889.6,374.1 892.1,371.2 894.7,373.1 897.2,374.5 899.7,371.8 902.3,373.7 904.8,374.3 907.4,372.9 909.9,373.2 912.4,370.8 915.0,372.0 917.5,370.9 920.1,373.4 922.6,371.5 925.1,372.5 927.6,374.8 930.2,374.7 932.7,375.6 935.2,374.1 937.7,374.1 940.3,374.7 942.8,373.6 945.4,372.7 947.9,373.0 950.4,372.4 953.0,373.7 955.5,376.3 958.1,376.6 960.6,375.9 963.1,375.2 965.7,374.4 968.2,373.3 970.8,373.7 973.3,375.3 975.8,375.8 978.4,374.1 980.9,375.7 983.5,375.8 986.0,375.7 988.5,375.3 991.0,375.4 993.6,373.7 996.1,374.7 998.6,372.9 1001.1,374.0 1003.7,375.4 1006.2,375.4 1008.8,374.3 1011.3,375.4" fill="none" stroke="#000000" stroke-width="2.80" stroke-linejoin="round" stroke-linecap="round" />
</g>
<circle cx="677.4" cy="301.9" r="7.9" fill="#000" fill-opacity="0.45"/>
<circle cx="677.4" cy="301.9" r="1.3" fill="#b020b0"/>
<circle cx="677.3" cy="375.3" r="7.9" fill="#000" fill-opacity="0.45"/>
<circle cx="677.3" cy="375.3" r="1.3" fill="#b020b0"/>
<circle cx="822.2" cy="340.5" r="7.9" fill="#000" fill-opacity="0.45"/>
<circle cx="822.2" cy="340.5" r="1.3" fill="#b020b0"/>
<line x1="715.4" y1="563.3" x2="683.7" y2="405.0" stroke="#000" stroke-opacity="0.48" stroke-width="1.8"/>
<path d="M677.8 375.6 L696.4 411.6 L683.7 405.0 L674.5 416.0 Z" fill="#000" fill-opacity="0.46"/>
<line x1="1116.7" y1="575.5" x2="703.1" y2="317.9" stroke="#000" stroke-opacity="0.60" stroke-width="1.8"/>
<path d="M677.6 302.0 L716.3 313.6 L703.1 317.9 L705.1 331.6 Z" fill="#000" fill-opacity="0.46"/>
<line x1="1015.1" y1="217.7" x2="847.9" y2="324.3" stroke="#000" stroke-opacity="0.62" stroke-width="1.8"/>
<path d="M822.6 340.5 L849.8 310.6 L847.9 324.3 L861.2 328.5 Z" fill="#000" fill-opacity="0.46"/>
<text x="24.2" y="479.5" font-size="33.0" text-anchor="middle" font-weight="bold" fill="#000" >c</text>
<text transform="translate(293.4 503.8) scale(1 1.060)" font-size="31.0" text-anchor="middle" font-weight="bold" fill="#000" >Divergence</text>
<path d="M96.2 517.9 H490.7 V841.0" fill="none" stroke="#444" stroke-width="1.4"/>
<path d="M96.2 517.1 V841.0 H491.5" fill="none" stroke="#000" stroke-width="2.2"/>
<line x1="110.2" y1="841.0" x2="110.2" y2="846.0" stroke="#000" stroke-width="2.2"/>
<text x="110.2" y="885.3" font-size="26.6" text-anchor="middle" font-weight="normal" fill="#000" >2</text>
<line x1="205.3" y1="841.0" x2="205.3" y2="846.0" stroke="#000" stroke-width="2.2"/>
<text x="205.3" y="885.3" font-size="26.6" text-anchor="middle" font-weight="normal" fill="#000" >4</text>
<line x1="300.4" y1="841.0" x2="300.4" y2="846.0" stroke="#000" stroke-width="2.2"/>
<text x="300.4" y="885.3" font-size="26.6" text-anchor="middle" font-weight="normal" fill="#000" >6</text>
<line x1="395.6" y1="841.0" x2="395.6" y2="846.0" stroke="#000" stroke-width="2.2"/>
<text x="395.6" y="885.3" font-size="26.6" text-anchor="middle" font-weight="normal" fill="#000" >8</text>
<line x1="490.7" y1="841.0" x2="490.7" y2="846.0" stroke="#000" stroke-width="2.2"/>
<text x="490.7" y="885.3" font-size="26.6" text-anchor="middle" font-weight="normal" fill="#000" >10</text>
<line x1="91.2" y1="841.0" x2="96.2" y2="841.0" stroke="#000" stroke-width="2.2"/>
<text x="78.9" y="852.3" font-size="26.6" text-anchor="end" font-weight="normal" fill="#000" >0.8</text>
<line x1="91.2" y1="679.5" x2="96.2" y2="679.5" stroke="#000" stroke-width="2.2"/>
<text x="78.9" y="690.8" font-size="26.6" text-anchor="end" font-weight="normal" fill="#000" >4.4</text>
<line x1="91.2" y1="518.0" x2="96.2" y2="518.0" stroke="#000" stroke-width="2.2"/>
<text x="78.9" y="529.3" font-size="26.6" text-anchor="end" font-weight="normal" fill="#000" >8</text>
<text x="293.4" y="928.5" font-size="31.5" text-anchor="middle">D<tspan font-size="21.5" dx="0.8" dy="14.8">0</tspan><tspan dx="1.6" dy="-14.8"> (a. u.)</tspan></text>
<text transform="translate(24.6,680) rotate(-90)" font-size="31.4" text-anchor="middle">Normalized divergence</text>
<g clip-path="url(#clipC)">
<polyline points="97.2,815.0 100.4,810.6 103.6,806.2 106.8,801.8 110.0,797.4 113.2,791.7 116.4,786.5 119.6,785.7 122.8,782.0 126.0,772.1 129.2,769.0 132.4,767.0 135.6,768.2 138.8,764.5 142.0,754.0 145.2,752.0 148.4,756.7 151.6,757.1 154.8,746.9 158.0,740.3 161.2,744.4 164.4,737.6 167.6,742.7 170.8,749.2 174.0,750.5 177.2,750.3 180.4,745.4 183.6,729.2 186.8,730.3 190.0,737.6 193.2,744.3 196.4,742.4 199.6,739.4 202.8,733.5 206.0,732.0 209.2,727.2 212.4,717.2 215.6,719.0 218.8,713.7 222.0,725.4 225.2,714.0 228.4,706.0 231.6,707.8 234.8,707.6 238.0,710.8 241.2,701.7 244.4,705.6 247.6,702.9 250.8,691.7 254.0,688.0 257.2,688.9 260.4,683.6 263.6,681.4 266.8,678.5 270.0,681.5 273.2,687.7 276.4,696.7 279.6,683.2 282.8,671.4 286.0,666.0 289.2,659.8 292.4,671.0 295.6,656.9 298.8,658.5 302.0,676.0 305.2,669.6 308.4,665.1 311.6,664.1 314.8,648.0 318.0,648.9 321.2,652.4 324.4,651.3 327.6,648.3 330.8,641.1 334.0,638.5 337.2,632.8 340.4,631.3 343.6,631.2 346.8,635.2 350.0,631.9 353.2,641.8 356.4,629.5 359.6,637.0 362.8,636.7 366.0,620.7 369.2,617.9 372.4,615.0 375.6,617.1 378.8,607.9 382.0,608.9 385.2,606.1 388.4,606.6 391.6,612.8 394.8,604.5 398.0,610.1 401.2,612.2 404.4,612.3 407.6,595.0 410.8,594.2 414.0,588.1 417.2,592.8 420.4,589.6 423.6,576.7 426.8,576.4 430.0,585.5 433.2,585.5 436.4,580.3 439.6,579.4 442.8,579.5 446.0,573.9 449.2,578.8 452.4,552.4 455.6,549.0 458.8,570.5 462.0,563.8 465.2,558.1 468.4,556.8 471.6,560.1 474.8,564.8 478.0,556.5 481.2,540.3 484.4,539.8 487.6,539.1 490.6,556.1" fill="none" stroke="#000000" stroke-width="2.80" stroke-linejoin="round" stroke-linecap="round" />
<polyline points="97.2,819.2 99.2,819.7 101.2,820.3 103.2,820.8 105.2,821.3 107.2,821.8 109.2,822.3 111.2,822.8 113.2,823.2 115.2,823.7 117.2,824.1 119.2,824.5 121.2,824.9 123.2,825.3 125.2,825.6 127.2,825.9 129.2,826.1 131.2,826.4 133.2,826.6 135.2,826.7 137.2,826.9 139.2,827.0 141.2,827.0 143.2,827.0 145.2,826.9 147.2,826.9 149.2,826.7 151.2,826.5 153.2,826.3 155.2,826.0 157.2,825.6 158.3,825.4 162.0,823.5" fill="none" stroke="#f00000" stroke-width="2.80" stroke-linejoin="round" stroke-linecap="round" />
<polyline points="162.0,822.6 165.2,820.9 168.4,819.2 171.6,817.4 174.8,815.7 178.0,814.0 181.2,812.3 184.4,810.3 187.6,806.7 190.8,815.3 194.0,803.9 197.2,805.2 200.4,805.3 203.6,797.2 206.8,802.7 210.0,796.9 213.2,798.4 216.4,791.4 219.6,789.4 222.8,794.1 226.0,790.4 229.2,787.8 232.4,787.5 235.6,785.6 238.8,779.2 242.0,774.6 245.2,774.4 248.4,772.5 251.6,769.6 254.8,772.3 258.0,771.0 261.2,770.7 264.4,769.7 267.6,766.3 270.8,765.0 274.0,764.2 277.2,759.5 280.4,758.6 283.6,758.9 286.8,755.2 290.0,753.7 293.2,753.3 296.4,755.5 299.6,750.9 302.8,747.2 306.0,744.7 309.2,744.2 312.4,748.9 315.6,732.0 318.8,740.4 322.0,737.6 325.2,737.5 328.4,729.9 331.6,737.1 334.8,732.0 338.0,727.0 341.2,725.6 344.4,721.1 347.6,721.2 350.8,718.6 354.0,719.5 357.2,715.7 360.4,712.3 363.6,712.3 366.8,709.7 370.0,706.6 373.2,699.4 376.4,704.3 379.6,695.8 382.8,693.9 386.0,694.1 389.2,693.4 392.4,693.5 395.6,682.4 398.8,689.0 402.0,687.3 405.2,679.6 408.4,678.8 411.6,676.6 414.8,675.8 418.0,672.3 421.2,667.5 424.4,665.8 427.6,660.8 430.8,660.4 434.0,651.0 437.2,650.3 440.4,659.3 443.6,656.7 446.8,654.7 450.0,646.8 453.2,639.1 456.4,636.7 459.6,637.8 462.8,633.8 466.0,628.5 469.2,635.1 472.4,632.2 475.6,634.0 478.8,630.4 482.0,618.0 485.2,611.1 488.4,610.4 490.6,610.8" fill="none" stroke="#f00000" stroke-width="2.80" stroke-linejoin="round" stroke-linecap="round" />
<polyline points="97.2,822.1 99.2,822.7 101.2,823.3 103.2,823.9 105.2,824.4 107.2,824.9 109.2,825.3 111.2,825.8 113.2,826.2 115.2,826.6 117.2,826.9 119.2,827.3 121.2,827.6 123.2,827.8 125.2,828.1 127.2,828.3 129.2,828.5 131.2,828.7 133.2,828.9 135.2,829.0 137.2,829.1 139.2,829.2 141.2,829.3 143.2,829.4 145.2,829.4 147.2,829.5 149.2,829.5 151.2,829.5 153.2,829.5 155.2,829.5 157.2,829.4 159.2,829.4 161.2,829.3 163.2,829.3 165.2,829.2 167.2,829.1 169.2,829.0 171.2,828.9 173.2,828.8 175.2,828.7 177.2,828.5 179.2,828.4 181.2,828.3 183.2,828.1 185.2,828.0 187.2,827.9 189.2,827.7 191.2,827.6 193.2,827.4 195.2,827.3 197.2,827.1 199.2,827.0 201.2,826.9 203.2,826.7 205.2,826.6 207.2,826.5 208.7,826.4" fill="none" stroke="#00ee00" stroke-width="2.80" stroke-linejoin="round" stroke-linecap="round" />
<polyline points="208.7,826.8 211.9,824.7 215.1,822.7 218.3,820.8 221.5,819.1 224.7,817.5 227.9,819.5 231.1,816.8 234.3,817.0 237.5,809.2 240.7,808.6 243.9,806.3 247.1,809.9 250.3,806.7 253.5,808.7 256.7,806.1 259.9,804.6 263.1,808.9 266.3,803.8 269.5,801.2 272.7,797.6 275.9,802.2 279.1,800.4 282.3,793.9 285.5,795.1 288.7,794.8 291.9,788.5 295.1,790.6 298.3,793.4 301.5,783.9 304.7,787.7 307.9,789.6 311.1,781.3 314.3,779.9 317.5,779.7 320.7,778.6 323.9,776.3 327.1,769.3 330.3,769.2 333.5,769.4 336.7,766.2 339.9,767.9 343.1,762.1 346.3,759.8 349.5,763.5 352.7,756.4 355.9,752.0 359.1,752.5 362.3,749.9 365.5,750.3 368.7,747.7 371.9,743.7 375.1,741.7 378.3,739.4 381.5,742.5 384.7,742.5 387.9,735.4 391.1,735.4 394.3,733.3 397.5,729.5 400.7,727.3 403.9,723.9 407.1,714.9 410.3,711.5 413.5,709.0 416.7,706.9 419.9,703.7 423.1,704.3 426.3,707.6 429.5,709.8 432.7,699.0 435.9,695.9 439.1,694.0 442.3,695.6 445.5,692.6 448.7,696.6 451.9,692.5 455.1,693.5 458.3,688.0 461.5,683.8 464.7,682.9 467.9,673.7 471.1,671.2 474.3,672.1 477.5,669.2 480.7,664.4 483.9,655.0 487.1,663.1 490.3,670.6 490.6,670.2" fill="none" stroke="#00ee00" stroke-width="2.80" stroke-linejoin="round" stroke-linecap="round" />
<polyline points="97.2,826.6 99.2,827.0 101.2,827.3 103.2,827.6 105.2,828.0 107.2,828.3 109.2,828.6 111.2,828.9 113.2,829.2 115.2,829.5 117.2,829.8 119.2,830.0 121.2,830.3 123.2,830.6 125.2,830.8 127.2,831.0 129.2,831.3 131.2,831.5 133.2,831.7 135.2,831.9 137.2,832.1 139.2,832.3 141.2,832.5 143.2,832.7 145.2,832.9 147.2,833.0 149.2,833.2 151.2,833.3 153.2,833.5 155.2,833.6 157.2,833.7 159.2,833.9 161.2,834.0 163.2,834.1 165.2,834.2 167.2,834.3 169.2,834.4 171.2,834.4 173.2,834.5 175.2,834.6 177.2,834.6 179.2,834.7 181.2,834.7 183.2,834.8 185.2,834.8 187.2,834.9 189.2,834.9 191.2,834.9 193.2,834.9 195.2,834.9 197.2,834.9 199.2,834.9 201.2,834.9 203.2,834.9 205.2,834.8 207.2,834.8 209.2,834.8 211.2,834.7 213.2,834.7 215.2,834.6 217.2,834.6 219.2,834.5 221.2,834.4 223.2,834.4 225.2,834.3 227.2,834.2 229.2,834.1 231.2,834.0 233.2,833.9 235.2,833.8 237.2,833.7 239.2,833.6 241.2,833.4 243.2,833.3 245.2,833.2 247.2,833.0 249.2,832.9 251.2,832.8 253.2,832.6 255.2,832.5 257.2,832.3 259.2,832.1 261.2,832.0 263.2,831.8 265.2,831.6 267.2,831.4 269.2,831.2 271.2,831.0 273.2,830.8 275.2,830.6 277.2,830.4 279.2,830.2 281.2,830.0 283.2,829.8 285.2,829.6 287.2,829.4 289.2,829.1 291.2,828.9 293.2,828.7 295.2,828.4 297.2,828.2 299.2,827.9 301.2,827.7 303.2,827.4 305.2,827.2 307.2,826.9 309.2,826.7 311.2,826.4 313.2,826.1 315.2,825.9 317.2,825.6 319.2,825.3 321.2,825.0 323.2,824.7 325.2,824.5 326.0,824.3" fill="none" stroke="#0000e0" stroke-width="2.80" stroke-linejoin="round" stroke-linecap="round" />
<polyline points="326.0,824.5 329.2,823.7 332.4,823.1 335.6,821.6 338.8,816.5 342.0,819.4 345.2,814.7 348.4,816.5 351.6,813.2 354.8,814.7 358.0,810.2 361.2,808.5 364.4,804.2 367.6,805.4 370.8,801.4 374.0,800.6 377.2,798.4 380.4,795.8 383.6,791.1 386.8,785.1 390.0,783.7 393.2,784.9 396.4,782.4 399.6,780.0 402.8,773.3 406.0,769.4 409.2,770.2 412.4,767.0 415.6,762.2 418.8,759.0 422.0,753.2 425.2,752.3 428.4,752.3 431.6,744.6 434.8,742.4 438.0,739.9 441.2,736.4 444.4,730.3 447.6,729.9 450.8,726.7 454.0,724.2 457.2,721.0 460.4,718.9 463.6,714.0 466.8,716.5 470.0,709.7 473.2,710.6 476.4,707.9 479.6,702.7 482.8,697.6 486.0,693.2 489.2,692.1 490.6,693.6" fill="none" stroke="#0000e0" stroke-width="2.80" stroke-linejoin="round" stroke-linecap="round" />
</g>
<svg x="1018.5" y="108.5" width="211.0" height="211.0" overflow="hidden">
<rect width="211.0" height="211.0" fill="#030303"/>
<rect width="211" height="211" fill="url(#nbt)"/><ellipse cx="117.0" cy="100.0" rx="21.0" ry="13.0" fill="url(#g1)" transform="rotate(40.0 117.0 100.0)"/><ellipse cx="122.0" cy="123.5" rx="21.0" ry="13.0" fill="url(#g2)" transform="rotate(25.0 122.0 123.5)"/><ellipse cx="91.3" cy="139.3" rx="21.0" ry="14.0" fill="url(#g3)"/><ellipse cx="77.0" cy="79.1" rx="21.0" ry="13.0" fill="url(#g4)" transform="rotate(-20.0 77.0 79.1)"/><ellipse cx="64.3" cy="113.9" rx="13.0" ry="20.0" fill="url(#g5)"/><ellipse cx="42.1" cy="120.3" rx="16.0" ry="19.0" fill="url(#g6)"/><ellipse cx="146.0" cy="133.0" rx="13.0" ry="20.0" fill="url(#g7)"/><ellipse cx="139.5" cy="95.0" rx="13.0" ry="20.0" fill="url(#g8)"/><ellipse cx="106.0" cy="121.0" rx="18.0" ry="15.0" fill="url(#g9)"/><ellipse cx="104.0" cy="88.0" rx="16.0" ry="13.0" fill="url(#g10)"/><ellipse cx="118.0" cy="70.0" rx="18.0" ry="12.0" fill="url(#g11)" transform="rotate(20.0 118.0 70.0)"/><ellipse cx="84.0" cy="100.0" rx="12.0" ry="18.0" fill="url(#g12)"/><ellipse cx="60.0" cy="82.0" rx="5.0" ry="14.0" fill="url(#g13)" transform="rotate(40.0 60.0 82.0)"/><ellipse cx="150.0" cy="112.0" rx="5.0" ry="16.0" fill="url(#g14)"/><ellipse cx="74.0" cy="108.0" rx="7.0" ry="20.0" fill="url(#g15)"/><ellipse cx="112.0" cy="116.0" rx="6.0" ry="16.0" fill="url(#g16)" transform="rotate(-50.0 112.0 116.0)"/><ellipse cx="94.8" cy="106.3" rx="13.0" ry="13.0" fill="url(#g17)"/><ellipse cx="94.8" cy="106.3" rx="6.5" ry="6.5" fill="url(#g18)"/>
</svg>
<text x="1122.4" y="102.6" font-size="27.5" text-anchor="middle" font-weight="normal" fill="#000" >Near-f.</text>
<svg x="1234.5" y="28.8" width="158.0" height="158.0" overflow="hidden">
<rect width="158.0" height="158.0" fill="#0a0a0a"/>
<rect width="158" height="158" fill="url(#fbt)"/><g filter="url(#bf1)"><path d="M72.4 65.7 A13.8 13.8 0 0 1 86.0 67.7" fill="none" stroke="#000" stroke-opacity="0.42" stroke-width="2.2" stroke-linecap="round"/><path d="M88.9 48.6 A32.0 32.0 0 0 1 108.2 69.7" fill="none" stroke="#000" stroke-opacity="0.43" stroke-width="2.2" stroke-linecap="round"/><path d="M71.2 85.1 A9.1 9.1 0 0 1 68.6 76.8" fill="none" stroke="#000" stroke-opacity="0.32" stroke-width="2.8" stroke-linecap="round"/><path d="M79.2 94.1 A15.7 15.7 0 0 1 71.8 93.2" fill="none" stroke="#000" stroke-opacity="0.55" stroke-width="2.7" stroke-linecap="round"/><path d="M51.8 55.6 A34.4 34.4 0 0 1 65.0 46.5" fill="none" stroke="#000" stroke-opacity="0.38" stroke-width="2.5" stroke-linecap="round"/><path d="M89.3 74.8 A12.4 12.4 0 0 1 88.4 84.3" fill="none" stroke="#000" stroke-opacity="0.34" stroke-width="2.8" stroke-linecap="round"/><path d="M88.8 73.0 A12.6 12.6 0 0 1 89.0 83.6" fill="none" stroke="#000" stroke-opacity="0.44" stroke-width="2.3" stroke-linecap="round"/><path d="M86.4 99.8 A23.1 23.1 0 0 1 75.8 101.5" fill="none" stroke="#000" stroke-opacity="0.52" stroke-width="2.2" stroke-linecap="round"/><path d="M85.6 109.1 A31.6 31.6 0 0 1 49.2 92.7" fill="none" stroke="#000" stroke-opacity="0.52" stroke-width="2.8" stroke-linecap="round"/><path d="M50.3 63.4 A31.1 31.1 0 0 1 79.8 47.5" fill="none" stroke="#000" stroke-opacity="0.33" stroke-width="2.5" stroke-linecap="round"/><path d="M87.5 109.9 A33.0 33.0 0 0 1 49.5 95.9" fill="none" stroke="#000" stroke-opacity="0.52" stroke-width="2.4" stroke-linecap="round"/><path d="M58.8 84.4 A19.6 19.6 0 0 1 60.3 69.1" fill="none" stroke="#000" stroke-opacity="0.55" stroke-width="2.4" stroke-linecap="round"/><path d="M85.6 83.9 A9.8 9.8 0 0 1 76.1 88.2" fill="none" stroke="#000" stroke-opacity="0.55" stroke-width="2.5" stroke-linecap="round"/><path d="M55.4 71.3 A23.3 23.3 0 0 1 75.2 55.4" fill="none" stroke="#000" stroke-opacity="0.36" stroke-width="2.6" stroke-linecap="round"/><path d="M59.5 61.0 A25.1 25.1 0 0 1 72.7 53.8" fill="none" stroke="#000" stroke-opacity="0.34" stroke-width="2.3" stroke-linecap="round"/><path d="M57.0 108.0 A35.9 35.9 0 0 1 41.7 76.9" fill="none" stroke="#000" stroke-opacity="0.38" stroke-width="2.1" stroke-linecap="round"/><path d="M81.7 68.5 A10.9 10.9 0 0 1 88.4 78.6" fill="none" stroke="#000" stroke-opacity="0.39" stroke-width="2.7" stroke-linecap="round"/><path d="M100.5 61.5 A28.6 28.6 0 0 1 99.0 97.4" fill="none" stroke="#000" stroke-opacity="0.40" stroke-width="3.0" stroke-linecap="round"/><path d="M46.4 58.6 A36.9 36.9 0 0 1 87.8 43.1" fill="none" stroke="#000" stroke-opacity="0.42" stroke-width="2.4" stroke-linecap="round"/><path d="M89.0 67.1 A16.2 16.2 0 0 1 93.4 75.5" fill="none" stroke="#000" stroke-opacity="0.32" stroke-width="2.8" stroke-linecap="round"/><path d="M46.2 81.8 A31.4 31.4 0 0 1 64.2 50.0" fill="none" stroke="#000" stroke-opacity="0.31" stroke-width="2.3" stroke-linecap="round"/><path d="M62.3 86.9 A17.4 17.4 0 0 1 60.2 76.9" fill="none" stroke="#000" stroke-opacity="0.32" stroke-width="2.3" stroke-linecap="round"/><path d="M112.4 74.9 A35.1 35.1 0 0 1 95.0 108.9" fill="none" stroke="#000" stroke-opacity="0.42" stroke-width="2.3" stroke-linecap="round"/><path d="M41.2 72.6 A36.8 36.8 0 0 1 67.5 43.1" fill="none" stroke="#000" stroke-opacity="0.31" stroke-width="2.2" stroke-linecap="round"/><path d="M86.8 46.5 A33.3 33.3 0 0 1 110.8 78.4" fill="none" stroke="#000" stroke-opacity="0.45" stroke-width="2.4" stroke-linecap="round"/><path d="M92.6 57.5 A25.9 25.9 0 0 1 102.8 73.0" fill="none" stroke="#000" stroke-opacity="0.43" stroke-width="2.3" stroke-linecap="round"/><path d="M108.7 80.5 A31.3 31.3 0 0 1 90.0 107.2" fill="none" stroke="#000" stroke-opacity="0.54" stroke-width="2.0" stroke-linecap="round"/><path d="M61.3 57.9 A26.2 26.2 0 0 1 92.0 56.7" fill="none" stroke="#000" stroke-opacity="0.45" stroke-width="2.3" stroke-linecap="round"/><path d="M97.6 73.2 A20.8 20.8 0 0 1 87.9 96.5" fill="none" stroke="#000" stroke-opacity="0.33" stroke-width="2.1" stroke-linecap="round"/><path d="M89.1 80.4 A11.7 11.7 0 0 1 83.6 88.5" fill="none" stroke="#000" stroke-opacity="0.34" stroke-width="2.9" stroke-linecap="round"/><path d="M97.1 98.5 A28.0 28.0 0 0 1 72.6 106.1" fill="none" stroke="#000" stroke-opacity="0.38" stroke-width="2.5" stroke-linecap="round"/><path d="M85.2 91.8 A15.4 15.4 0 0 1 76.2 93.8" fill="none" stroke="#000" stroke-opacity="0.39" stroke-width="2.7" stroke-linecap="round"/><path d="M101.4 85.6 A25.0 25.0 0 0 1 81.5 103.1" fill="none" stroke="#000" stroke-opacity="0.52" stroke-width="2.8" stroke-linecap="round"/><path d="M109.4 80.1 A31.9 31.9 0 0 1 96.6 104.1" fill="none" stroke="#000" stroke-opacity="0.32" stroke-width="2.8" stroke-linecap="round"/></g><ellipse cx="74.5" cy="77.5" rx="16.0" ry="16.0" fill="url(#g19)"/><ellipse cx="74.5" cy="77.5" rx="5.5" ry="5.5" fill="url(#g20)"/>
</svg>
<text x="1310.1" y="23.5" font-size="26.5" text-anchor="middle" font-weight="normal" fill="#000" >Far-f.</text>
<svg x="1234.5" y="240.2" width="158.0" height="158.0" overflow="hidden">
<rect width="158.0" height="158.0" fill="#0a0a0a"/>
<rect width="158" height="158" fill="url(#abt)"/>
</svg>
<text x="1235.0" y="391.7" font-size="27.3" text-anchor="start" font-weight="normal" fill="#fff" >Avg.</text>
<svg x="563.5" y="631.0" width="212.0" height="212.0" overflow="hidden">
<rect width="212.0" height="212.0" fill="#030303"/>
<rect width="212" height="212" fill="url(#nbl)"/><ellipse cx="118.0" cy="70.0" rx="28.0" ry="14.0" fill="url(#g21)" transform="rotate(15.0 118.0 70.0)"/><ellipse cx="104.0" cy="86.0" rx="20.0" ry="8.0" fill="url(#g22)"/><ellipse cx="66.0" cy="104.0" rx="12.0" ry="22.0" fill="url(#g23)"/><ellipse cx="95.0" cy="137.0" rx="24.0" ry="12.0" fill="url(#g24)"/><ellipse mask="url(#maskNBL)" cx="98.0" cy="99.0" rx="55.4" ry="55.4" fill="url(#g25)"/><ellipse cx="133.0" cy="146.0" rx="22.0" ry="14.0" fill="url(#g26)" transform="rotate(-30.0 133.0 146.0)"/><ellipse cx="100.0" cy="105.5" rx="18.1" ry="27.2" fill="url(#g27)"/><ellipse cx="100.0" cy="105.5" rx="8.2" ry="13.5" fill="url(#g28)"/><ellipse cx="78.7" cy="104.0" rx="11.0" ry="12.0" fill="url(#g29)"/><ellipse cx="119.9" cy="108.7" rx="10.5" ry="12.0" fill="url(#g30)"/><ellipse cx="140.5" cy="122.6" rx="11.0" ry="11.0" fill="url(#g31)"/>
</svg>
<text x="668.0" y="625.8" font-size="27.5" text-anchor="middle" font-weight="normal" fill="#000" >Near-f.</text>
<svg x="780.2" y="552.0" width="158.0" height="158.0" overflow="hidden">
<rect width="158.0" height="158.0" fill="#0a0a0a"/>
<rect width="158" height="158" fill="url(#fbl)"/><ellipse cx="93.0" cy="82.0" rx="20.0" ry="22.0" fill="url(#g32)"/><ellipse cx="81.0" cy="97.0" rx="18.0" ry="17.0" fill="url(#g33)"/><ellipse cx="84.0" cy="68.0" rx="16.0" ry="14.0" fill="url(#g34)"/><ellipse cx="67.0" cy="84.0" rx="14.0" ry="18.0" fill="url(#g35)"/><ellipse cx="76.8" cy="73.5" rx="12.3" ry="12.3" fill="url(#g36)"/><ellipse cx="76.8" cy="73.5" rx="7.5" ry="7.5" fill="url(#g37)"/><ellipse cx="59.8" cy="58.3" rx="3.4" ry="3.4" fill="url(#g38)"/><ellipse cx="106.4" cy="68.0" rx="3.5" ry="3.5" fill="url(#g39)"/><ellipse cx="99.6" cy="81.6" rx="3.5" ry="3.5" fill="url(#g40)"/><ellipse cx="60.4" cy="51.4" rx="2.7" ry="2.7" fill="url(#g41)"/><ellipse cx="66.9" cy="80.6" rx="3.1" ry="3.1" fill="url(#g42)"/><ellipse cx="74.3" cy="75.1" rx="2.8" ry="2.8" fill="url(#g43)"/><ellipse cx="73.8" cy="110.9" rx="3.4" ry="3.4" fill="url(#g44)"/><ellipse cx="96.1" cy="103.2" rx="2.7" ry="2.7" fill="url(#g45)"/><ellipse cx="72.7" cy="71.4" rx="2.6" ry="2.6" fill="url(#g46)"/><ellipse cx="88.5" cy="69.1" rx="2.8" ry="2.8" fill="url(#g47)"/><ellipse cx="112.0" cy="74.5" rx="2.9" ry="2.9" fill="url(#g48)"/><ellipse cx="101.5" cy="72.7" rx="3.3" ry="3.3" fill="url(#g49)"/><ellipse cx="89.6" cy="110.9" rx="3.3" ry="3.3" fill="url(#g50)"/><ellipse cx="112.1" cy="71.2" rx="2.9" ry="2.9" fill="url(#g51)"/><ellipse cx="72.9" cy="86.4" rx="2.7" ry="2.7" fill="url(#g52)"/><ellipse cx="93.8" cy="84.0" rx="3.2" ry="3.2" fill="url(#g53)"/><ellipse cx="106.3" cy="78.6" rx="2.9" ry="2.9" fill="url(#g54)"/><ellipse cx="68.8" cy="106.4" rx="3.1" ry="3.1" fill="url(#g55)"/><ellipse cx="71.8" cy="96.7" rx="3.3" ry="3.3" fill="url(#g56)"/><ellipse cx="113.0" cy="90.4" rx="2.6" ry="2.6" fill="url(#g57)"/><ellipse cx="80.0" cy="46.7" rx="2.6" ry="2.6" fill="url(#g58)"/><ellipse cx="84.0" cy="61.5" rx="3.2" ry="3.2" fill="url(#g59)"/><ellipse cx="87.4" cy="78.4" rx="2.8" ry="2.8" fill="url(#g60)"/><ellipse cx="91.4" cy="74.7" rx="3.4" ry="3.4" fill="url(#g61)"/><ellipse cx="111.0" cy="63.3" rx="2.9" ry="2.9" fill="url(#g62)"/><ellipse cx="66.7" cy="95.2" rx="3.4" ry="3.4" fill="url(#g63)"/><ellipse cx="102.1" cy="95.9" rx="3.4" ry="3.4" fill="url(#g64)"/><ellipse cx="84.5" cy="72.5" rx="3.5" ry="3.5" fill="url(#g65)"/><ellipse cx="93.6" cy="86.8" rx="3.2" ry="3.2" fill="url(#g66)"/><ellipse cx="94.1" cy="70.0" rx="3.5" ry="3.5" fill="url(#g67)"/>
</svg>
<text x="846.8" y="546.6" font-size="26.5" text-anchor="middle" font-weight="normal" fill="#000" >Far-f.</text>
<svg x="780.2" y="763.3" width="158.4" height="158.4" overflow="hidden">
<rect width="158.4" height="158.4" fill="#0a0a0a"/>
<rect width="158" height="158" fill="url(#abl)"/>
</svg>
<text x="780.7" y="915.2" font-size="27.3" text-anchor="start" font-weight="normal" fill="#fff" >Avg.</text>
<svg x="1018.0" y="632.0" width="211.0" height="211.0" overflow="hidden">
<rect width="211.0" height="211.0" fill="#030303"/>
<rect width="211" height="211" fill="url(#nbr)"/>
</svg>
<text x="1121.7" y="625.6" font-size="27.5" text-anchor="middle" font-weight="normal" fill="#000" >Near-f.</text>
<svg x="1234.4" y="552.0" width="158.0" height="158.0" overflow="hidden">
<rect width="158.0" height="158.0" fill="#0a0a0a"/>
<rect width="158" height="158" fill="url(#fbr)"/>
</svg>
<text x="1309.8" y="546.6" font-size="26.5" text-anchor="middle" font-weight="normal" fill="#000" >Far-f.</text>
<svg x="1234.4" y="763.2" width="158.0" height="158.0" overflow="hidden">
<rect width="158.0" height="158.0" fill="#0a0a0a"/>
<rect width="158" height="158" fill="url(#abr)"/>
</svg>
<text x="1234.9" y="914.7" font-size="27.3" text-anchor="start" font-weight="normal" fill="#fff" >Avg.</text>
</svg></body></html>
